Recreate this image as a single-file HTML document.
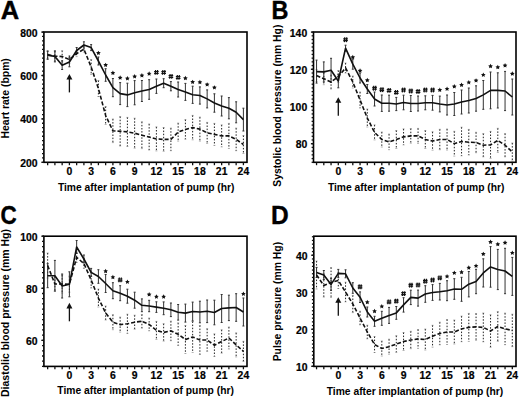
<!DOCTYPE html>
<html><head><meta charset="utf-8"><style>
html,body{margin:0;padding:0;background:#fff;}
#wrap{width:520px;height:398px;}
body{width:520px;height:398px;overflow:hidden;}
svg{display:block;font-family:"Liberation Sans",sans-serif;font-weight:bold;}
.fr{fill:none;stroke:#000;stroke-width:1.6;}
.tk{stroke:#111;stroke-width:1.3;}
.sl{fill:none;stroke:#111;stroke-width:1.6;stroke-linejoin:round;}
.dl{fill:none;stroke:#111;stroke-width:1.6;stroke-dasharray:4 2;}
.sb{stroke:#333;stroke-width:1;}
.scap{stroke:#333;stroke-width:1;}
.db{stroke:#222;stroke-width:1;stroke-dasharray:1.5 1.6;}
.cap{stroke:#666;stroke-width:0.5;}
.arr{stroke:#111;stroke-width:1.3;}
.tl{font-size:10.4px;fill:#000;stroke:#000;stroke-width:0.2;}
.at{font-size:10.3px;fill:#000;}
.pl{font-size:25.5px;fill:#000;stroke:#000;stroke-width:0.4;}
.hs{fill:none;stroke:#111;stroke-width:1.2;}
polygon{fill:#111;}
</style></head><body>
<div id="wrap"><svg width="520" height="398" viewBox="0 0 520 398">
<g><line class="db" x1="47.65" y1="50.6" x2="47.65" y2="58.6"/><line class="cap" x1="46.65" y1="50.6" x2="48.65" y2="50.6"/><line class="cap" x1="46.65" y1="58.6" x2="48.65" y2="58.6"/><line class="db" x1="54.9" y1="51.1" x2="54.9" y2="61.1"/><line class="cap" x1="53.9" y1="51.1" x2="55.9" y2="51.1"/><line class="cap" x1="53.9" y1="61.1" x2="55.9" y2="61.1"/><line class="db" x1="62.15" y1="50.7" x2="62.15" y2="62.3"/><line class="cap" x1="61.15" y1="50.7" x2="63.15" y2="50.7"/><line class="cap" x1="61.15" y1="62.3" x2="63.15" y2="62.3"/><line class="db" x1="69.4" y1="55.6" x2="69.4" y2="63.6"/><line class="cap" x1="68.4" y1="55.6" x2="70.4" y2="55.6"/><line class="cap" x1="68.4" y1="63.6" x2="70.4" y2="63.6"/><line class="db" x1="76.65" y1="50.6" x2="76.65" y2="56.6"/><line class="cap" x1="75.65" y1="50.6" x2="77.65" y2="50.6"/><line class="cap" x1="75.65" y1="56.6" x2="77.65" y2="56.6"/><line class="db" x1="83.9" y1="46.1" x2="83.9" y2="52.1"/><line class="cap" x1="82.9" y1="46.1" x2="84.9" y2="46.1"/><line class="cap" x1="82.9" y1="52.1" x2="84.9" y2="52.1"/><line class="db" x1="91.15" y1="59.5" x2="91.15" y2="74.5"/><line class="cap" x1="90.15" y1="59.5" x2="92.15" y2="59.5"/><line class="cap" x1="90.15" y1="74.5" x2="92.15" y2="74.5"/><line class="db" x1="98.4" y1="80.5" x2="98.4" y2="96.5"/><line class="cap" x1="97.4" y1="80.5" x2="99.4" y2="80.5"/><line class="cap" x1="97.4" y1="96.5" x2="99.4" y2="96.5"/><line class="db" x1="105.65" y1="106.5" x2="105.65" y2="124.5"/><line class="cap" x1="104.65" y1="106.5" x2="106.65" y2="106.5"/><line class="cap" x1="104.65" y1="124.5" x2="106.65" y2="124.5"/><line class="db" x1="112.9" y1="119" x2="112.9" y2="142.6"/><line class="cap" x1="111.9" y1="119" x2="113.9" y2="119"/><line class="cap" x1="111.9" y1="142.6" x2="113.9" y2="142.6"/><line class="db" x1="120.15" y1="116.6" x2="120.15" y2="146"/><line class="cap" x1="119.15" y1="116.6" x2="121.15" y2="116.6"/><line class="cap" x1="119.15" y1="146" x2="121.15" y2="146"/><line class="db" x1="127.4" y1="117.4" x2="127.4" y2="146.4"/><line class="cap" x1="126.4" y1="117.4" x2="128.4" y2="117.4"/><line class="cap" x1="126.4" y1="146.4" x2="128.4" y2="146.4"/><line class="db" x1="134.65" y1="118.2" x2="134.65" y2="148.2"/><line class="cap" x1="133.65" y1="118.2" x2="135.65" y2="118.2"/><line class="cap" x1="133.65" y1="148.2" x2="135.65" y2="148.2"/><line class="db" x1="141.9" y1="121.8" x2="141.9" y2="148.6"/><line class="cap" x1="140.9" y1="121.8" x2="142.9" y2="121.8"/><line class="cap" x1="140.9" y1="148.6" x2="142.9" y2="148.6"/><line class="db" x1="149.15" y1="124" x2="149.15" y2="150"/><line class="cap" x1="148.15" y1="124" x2="150.15" y2="124"/><line class="cap" x1="148.15" y1="150" x2="150.15" y2="150"/><line class="db" x1="156.4" y1="126.9" x2="156.4" y2="150.9"/><line class="cap" x1="155.4" y1="126.9" x2="157.4" y2="126.9"/><line class="cap" x1="155.4" y1="150.9" x2="157.4" y2="150.9"/><line class="db" x1="163.65" y1="127.5" x2="163.65" y2="151.3"/><line class="cap" x1="162.65" y1="127.5" x2="164.65" y2="127.5"/><line class="cap" x1="162.65" y1="151.3" x2="164.65" y2="151.3"/><line class="db" x1="170.9" y1="128.1" x2="170.9" y2="150.7"/><line class="cap" x1="169.9" y1="128.1" x2="171.9" y2="128.1"/><line class="cap" x1="169.9" y1="150.7" x2="171.9" y2="150.7"/><line class="db" x1="178.15" y1="123.1" x2="178.15" y2="141.1"/><line class="cap" x1="177.15" y1="123.1" x2="179.15" y2="123.1"/><line class="cap" x1="177.15" y1="141.1" x2="179.15" y2="141.1"/><line class="db" x1="185.4" y1="119.6" x2="185.4" y2="139.2"/><line class="cap" x1="184.4" y1="119.6" x2="186.4" y2="119.6"/><line class="cap" x1="184.4" y1="139.2" x2="186.4" y2="139.2"/><line class="db" x1="192.65" y1="115.4" x2="192.65" y2="139.8"/><line class="cap" x1="191.65" y1="115.4" x2="193.65" y2="115.4"/><line class="cap" x1="191.65" y1="139.8" x2="193.65" y2="139.8"/><line class="db" x1="199.9" y1="117.1" x2="199.9" y2="141.1"/><line class="cap" x1="198.9" y1="117.1" x2="200.9" y2="117.1"/><line class="cap" x1="198.9" y1="141.1" x2="200.9" y2="141.1"/><line class="db" x1="207.15" y1="122.4" x2="207.15" y2="143.4"/><line class="cap" x1="206.15" y1="122.4" x2="208.15" y2="122.4"/><line class="cap" x1="206.15" y1="143.4" x2="208.15" y2="143.4"/><line class="db" x1="214.4" y1="123.4" x2="214.4" y2="145.4"/><line class="cap" x1="213.4" y1="123.4" x2="215.4" y2="123.4"/><line class="cap" x1="213.4" y1="145.4" x2="215.4" y2="145.4"/><line class="db" x1="221.65" y1="124.9" x2="221.65" y2="146.9"/><line class="cap" x1="220.65" y1="124.9" x2="222.65" y2="124.9"/><line class="cap" x1="220.65" y1="146.9" x2="222.65" y2="146.9"/><line class="db" x1="228.9" y1="123.4" x2="228.9" y2="148.4"/><line class="cap" x1="227.9" y1="123.4" x2="229.9" y2="123.4"/><line class="cap" x1="227.9" y1="148.4" x2="229.9" y2="148.4"/><line class="db" x1="236.15" y1="128.1" x2="236.15" y2="150.7"/><line class="cap" x1="235.15" y1="128.1" x2="237.15" y2="128.1"/><line class="cap" x1="235.15" y1="150.7" x2="237.15" y2="150.7"/><line class="db" x1="243.4" y1="135.5" x2="243.4" y2="153.5"/><line class="cap" x1="242.4" y1="135.5" x2="244.4" y2="135.5"/><line class="cap" x1="242.4" y1="153.5" x2="244.4" y2="153.5"/><line class="sb" x1="47.65" y1="51.3" x2="47.65" y2="59.3"/><line class="scap" x1="46.65" y1="51.3" x2="48.65" y2="51.3"/><line class="scap" x1="46.65" y1="59.3" x2="48.65" y2="59.3"/><line class="sb" x1="54.9" y1="50.9" x2="54.9" y2="61.9"/><line class="scap" x1="53.9" y1="50.9" x2="55.9" y2="50.9"/><line class="scap" x1="53.9" y1="61.9" x2="55.9" y2="61.9"/><line class="sb" x1="62.15" y1="60.9" x2="62.15" y2="69.5"/><line class="scap" x1="61.15" y1="60.9" x2="63.15" y2="60.9"/><line class="scap" x1="61.15" y1="69.5" x2="63.15" y2="69.5"/><line class="sb" x1="69.4" y1="57.2" x2="69.4" y2="66.8"/><line class="scap" x1="68.4" y1="57.2" x2="70.4" y2="57.2"/><line class="scap" x1="68.4" y1="66.8" x2="70.4" y2="66.8"/><line class="sb" x1="76.65" y1="47.5" x2="76.65" y2="53.5"/><line class="scap" x1="75.65" y1="47.5" x2="77.65" y2="47.5"/><line class="scap" x1="75.65" y1="53.5" x2="77.65" y2="53.5"/><line class="sb" x1="83.9" y1="41.8" x2="83.9" y2="48.2"/><line class="scap" x1="82.9" y1="41.8" x2="84.9" y2="41.8"/><line class="scap" x1="82.9" y1="48.2" x2="84.9" y2="48.2"/><line class="sb" x1="91.15" y1="44.6" x2="91.15" y2="50.6"/><line class="scap" x1="90.15" y1="44.6" x2="92.15" y2="44.6"/><line class="scap" x1="90.15" y1="50.6" x2="92.15" y2="50.6"/><line class="sb" x1="98.4" y1="57" x2="98.4" y2="65"/><line class="scap" x1="97.4" y1="57" x2="99.4" y2="57"/><line class="scap" x1="97.4" y1="65" x2="99.4" y2="65"/><line class="sb" x1="105.65" y1="68.7" x2="105.65" y2="81.3"/><line class="scap" x1="104.65" y1="68.7" x2="106.65" y2="68.7"/><line class="scap" x1="104.65" y1="81.3" x2="106.65" y2="81.3"/><line class="sb" x1="112.9" y1="78.5" x2="112.9" y2="96.7"/><line class="scap" x1="111.9" y1="78.5" x2="113.9" y2="78.5"/><line class="scap" x1="111.9" y1="96.7" x2="113.9" y2="96.7"/><line class="sb" x1="120.15" y1="82.6" x2="120.15" y2="104.6"/><line class="scap" x1="119.15" y1="82.6" x2="121.15" y2="82.6"/><line class="scap" x1="119.15" y1="104.6" x2="121.15" y2="104.6"/><line class="sb" x1="127.4" y1="83.2" x2="127.4" y2="106.6"/><line class="scap" x1="126.4" y1="83.2" x2="128.4" y2="83.2"/><line class="scap" x1="126.4" y1="106.6" x2="128.4" y2="106.6"/><line class="sb" x1="134.65" y1="80.6" x2="134.65" y2="104.8"/><line class="scap" x1="133.65" y1="80.6" x2="135.65" y2="80.6"/><line class="scap" x1="133.65" y1="104.8" x2="135.65" y2="104.8"/><line class="sb" x1="141.9" y1="80.5" x2="141.9" y2="101.5"/><line class="scap" x1="140.9" y1="80.5" x2="142.9" y2="80.5"/><line class="scap" x1="140.9" y1="101.5" x2="142.9" y2="101.5"/><line class="sb" x1="149.15" y1="79.7" x2="149.15" y2="99.3"/><line class="scap" x1="148.15" y1="79.7" x2="150.15" y2="79.7"/><line class="scap" x1="148.15" y1="99.3" x2="150.15" y2="99.3"/><line class="sb" x1="156.4" y1="79" x2="156.4" y2="93.4"/><line class="scap" x1="155.4" y1="79" x2="157.4" y2="79"/><line class="scap" x1="155.4" y1="93.4" x2="157.4" y2="93.4"/><line class="sb" x1="163.65" y1="78.7" x2="163.65" y2="87.7"/><line class="scap" x1="162.65" y1="78.7" x2="164.65" y2="78.7"/><line class="scap" x1="162.65" y1="87.7" x2="164.65" y2="87.7"/><line class="sb" x1="170.9" y1="81.6" x2="170.9" y2="90.8"/><line class="scap" x1="169.9" y1="81.6" x2="171.9" y2="81.6"/><line class="scap" x1="169.9" y1="90.8" x2="171.9" y2="90.8"/><line class="sb" x1="178.15" y1="82" x2="178.15" y2="97"/><line class="scap" x1="177.15" y1="82" x2="179.15" y2="82"/><line class="scap" x1="177.15" y1="97" x2="179.15" y2="97"/><line class="sb" x1="185.4" y1="83.4" x2="185.4" y2="100.4"/><line class="scap" x1="184.4" y1="83.4" x2="186.4" y2="83.4"/><line class="scap" x1="184.4" y1="100.4" x2="186.4" y2="100.4"/><line class="sb" x1="192.65" y1="86.2" x2="192.65" y2="103.4"/><line class="scap" x1="191.65" y1="86.2" x2="193.65" y2="86.2"/><line class="scap" x1="191.65" y1="103.4" x2="193.65" y2="103.4"/><line class="sb" x1="199.9" y1="86.9" x2="199.9" y2="104.1"/><line class="scap" x1="198.9" y1="86.9" x2="200.9" y2="86.9"/><line class="scap" x1="198.9" y1="104.1" x2="200.9" y2="104.1"/><line class="sb" x1="207.15" y1="89.9" x2="207.15" y2="107.9"/><line class="scap" x1="206.15" y1="89.9" x2="208.15" y2="89.9"/><line class="scap" x1="206.15" y1="107.9" x2="208.15" y2="107.9"/><line class="sb" x1="214.4" y1="93.8" x2="214.4" y2="112.2"/><line class="scap" x1="213.4" y1="93.8" x2="215.4" y2="93.8"/><line class="scap" x1="213.4" y1="112.2" x2="215.4" y2="112.2"/><line class="sb" x1="221.65" y1="96" x2="221.65" y2="116"/><line class="scap" x1="220.65" y1="96" x2="222.65" y2="96"/><line class="scap" x1="220.65" y1="116" x2="222.65" y2="116"/><line class="sb" x1="228.9" y1="97.6" x2="228.9" y2="118.8"/><line class="scap" x1="227.9" y1="97.6" x2="229.9" y2="97.6"/><line class="scap" x1="227.9" y1="118.8" x2="229.9" y2="118.8"/><line class="sb" x1="236.15" y1="101.8" x2="236.15" y2="122.8"/><line class="scap" x1="235.15" y1="101.8" x2="237.15" y2="101.8"/><line class="scap" x1="235.15" y1="122.8" x2="237.15" y2="122.8"/><line class="sb" x1="243.4" y1="108.2" x2="243.4" y2="131"/><line class="scap" x1="242.4" y1="108.2" x2="244.4" y2="108.2"/><line class="scap" x1="242.4" y1="131" x2="244.4" y2="131"/><polyline class="dl" points="47.65,54.6 54.9,56.1 62.15,56.5 69.4,59.6 76.65,53.6 83.9,49.1 91.15,67 98.4,88.5 105.65,115.5 112.9,130.8 120.15,131.3 127.4,131.9 134.65,133.2 141.9,135.2 149.15,137 156.4,138.9 163.65,139.4 170.9,139.4 178.15,132.1 185.4,129.4 192.65,127.6 199.9,129.1 207.15,132.9 214.4,134.4 221.65,135.9 228.9,135.9 236.15,139.4 243.4,144.5"/><polyline class="sl" points="47.65,55.3 54.9,56.4 62.15,65.2 69.4,62 76.65,50.5 83.9,45 91.15,47.6 98.4,61 105.65,75 112.9,87.6 120.15,93.6 127.4,94.9 134.65,92.7 141.9,91 149.15,89.5 156.4,86.2 163.65,83.2 170.9,86.2 178.15,89.5 185.4,91.9 192.65,94.8 199.9,95.5 207.15,98.9 214.4,103 221.65,106 228.9,108.2 236.15,112.3 243.4,119.6"/><polygon points="98.4,50.65 99.12,52.11 100.73,52.34 99.57,53.48 99.84,55.08 98.4,54.33 96.96,55.08 97.23,53.48 96.07,52.34 97.68,52.11"/><polygon points="105.65,62.65 106.37,64.11 107.98,64.34 106.82,65.48 107.09,67.08 105.65,66.32 104.21,67.08 104.48,65.48 103.32,64.34 104.93,64.11"/><polygon points="112.9,70.55 113.62,72.01 115.23,72.24 114.07,73.38 114.34,74.98 112.9,74.22 111.46,74.98 111.73,73.38 110.57,72.24 112.18,72.01"/><polygon points="120.15,75.35 120.87,76.81 122.48,77.04 121.32,78.18 121.59,79.78 120.15,79.02 118.71,79.78 118.98,78.18 117.82,77.04 119.43,76.81"/><polygon points="127.4,76.05 128.12,77.51 129.73,77.74 128.57,78.88 128.84,80.48 127.4,79.72 125.96,80.48 126.23,78.88 125.07,77.74 126.68,77.51"/><polygon points="134.65,74.05 135.37,75.51 136.98,75.74 135.82,76.88 136.09,78.48 134.65,77.72 133.21,78.48 133.48,76.88 132.32,75.74 133.93,75.51"/><polygon points="141.9,73.05 142.62,74.51 144.23,74.74 143.07,75.88 143.34,77.48 141.9,76.72 140.46,77.48 140.73,75.88 139.57,74.74 141.18,74.51"/><polygon points="149.15,71.25 149.87,72.71 151.48,72.94 150.32,74.08 150.59,75.68 149.15,74.92 147.71,75.68 147.98,74.08 146.82,72.94 148.43,72.71"/><path class="hs" d="M155.6 70L155.2 74.8M157.6 70L157.2 74.8M154.1 71.5H158.7M154.1 73.4H158.7"/><path class="hs" d="M162.85 70L162.45 74.8M164.85 70L164.45 74.8M161.35 71.5H165.95M161.35 73.4H165.95"/><path class="hs" d="M170.1 74L169.7 78.8M172.1 74L171.7 78.8M168.6 75.5H173.2M168.6 77.4H173.2"/><path class="hs" d="M177.35 75L176.95 79.8M179.35 75L178.95 79.8M175.85 76.5H180.45M175.85 78.4H180.45"/><polygon points="185.4,75.85 186.12,77.31 187.73,77.54 186.57,78.68 186.84,80.28 185.4,79.52 183.96,80.28 184.23,78.68 183.07,77.54 184.68,77.31"/><polygon points="192.65,79.65 193.37,81.11 194.98,81.34 193.82,82.48 194.09,84.08 192.65,83.32 191.21,84.08 191.48,82.48 190.32,81.34 191.93,81.11"/><polygon points="199.9,79.85 200.62,81.31 202.23,81.54 201.07,82.68 201.34,84.28 199.9,83.52 198.46,84.28 198.73,82.68 197.57,81.54 199.18,81.31"/><polygon points="207.15,82.15 207.87,83.61 209.48,83.84 208.32,84.98 208.59,86.58 207.15,85.82 205.71,86.58 205.98,84.98 204.82,83.84 206.43,83.61"/><polygon points="214.4,85.15 215.12,86.61 216.73,86.84 215.57,87.98 215.84,89.58 214.4,88.82 212.96,89.58 213.23,87.98 212.07,86.84 213.68,86.61"/><rect class="fr" x="43.9" y="32" width="203.1" height="130.3"/><line class="tk" x1="47.65" y1="162.3" x2="47.65" y2="165.2"/><line class="tk" x1="54.9" y1="162.3" x2="54.9" y2="165.2"/><line class="tk" x1="62.15" y1="162.3" x2="62.15" y2="165.2"/><line class="tk" x1="69.4" y1="162.3" x2="69.4" y2="165.2"/><line class="tk" x1="76.65" y1="162.3" x2="76.65" y2="165.2"/><line class="tk" x1="83.9" y1="162.3" x2="83.9" y2="165.2"/><line class="tk" x1="91.15" y1="162.3" x2="91.15" y2="165.2"/><line class="tk" x1="98.4" y1="162.3" x2="98.4" y2="165.2"/><line class="tk" x1="105.65" y1="162.3" x2="105.65" y2="165.2"/><line class="tk" x1="112.9" y1="162.3" x2="112.9" y2="165.2"/><line class="tk" x1="120.15" y1="162.3" x2="120.15" y2="165.2"/><line class="tk" x1="127.4" y1="162.3" x2="127.4" y2="165.2"/><line class="tk" x1="134.65" y1="162.3" x2="134.65" y2="165.2"/><line class="tk" x1="141.9" y1="162.3" x2="141.9" y2="165.2"/><line class="tk" x1="149.15" y1="162.3" x2="149.15" y2="165.2"/><line class="tk" x1="156.4" y1="162.3" x2="156.4" y2="165.2"/><line class="tk" x1="163.65" y1="162.3" x2="163.65" y2="165.2"/><line class="tk" x1="170.9" y1="162.3" x2="170.9" y2="165.2"/><line class="tk" x1="178.15" y1="162.3" x2="178.15" y2="165.2"/><line class="tk" x1="185.4" y1="162.3" x2="185.4" y2="165.2"/><line class="tk" x1="192.65" y1="162.3" x2="192.65" y2="165.2"/><line class="tk" x1="199.9" y1="162.3" x2="199.9" y2="165.2"/><line class="tk" x1="207.15" y1="162.3" x2="207.15" y2="165.2"/><line class="tk" x1="214.4" y1="162.3" x2="214.4" y2="165.2"/><line class="tk" x1="221.65" y1="162.3" x2="221.65" y2="165.2"/><line class="tk" x1="228.9" y1="162.3" x2="228.9" y2="165.2"/><line class="tk" x1="236.15" y1="162.3" x2="236.15" y2="165.2"/><line class="tk" x1="243.4" y1="162.3" x2="243.4" y2="165.2"/><text class="tl" x="69.4" y="175.1" text-anchor="middle">0</text><text class="tl" x="91.15" y="175.1" text-anchor="middle">3</text><text class="tl" x="112.9" y="175.1" text-anchor="middle">6</text><text class="tl" x="134.65" y="175.1" text-anchor="middle">9</text><text class="tl" x="156.4" y="175.1" text-anchor="middle">12</text><text class="tl" x="178.15" y="175.1" text-anchor="middle">15</text><text class="tl" x="199.9" y="175.1" text-anchor="middle">18</text><text class="tl" x="221.65" y="175.1" text-anchor="middle">21</text><text class="tl" x="243.4" y="175.1" text-anchor="middle">24</text><line class="tk" x1="42" y1="162.3" x2="43.9" y2="162.3"/><line class="tk" x1="42" y1="157.96" x2="43.9" y2="157.96"/><line class="tk" x1="42" y1="153.62" x2="43.9" y2="153.62"/><line class="tk" x1="42" y1="149.28" x2="43.9" y2="149.28"/><line class="tk" x1="42" y1="144.94" x2="43.9" y2="144.94"/><line class="tk" x1="42" y1="140.6" x2="43.9" y2="140.6"/><line class="tk" x1="42" y1="136.26" x2="43.9" y2="136.26"/><line class="tk" x1="42" y1="131.92" x2="43.9" y2="131.92"/><line class="tk" x1="42" y1="127.58" x2="43.9" y2="127.58"/><line class="tk" x1="42" y1="123.24" x2="43.9" y2="123.24"/><line class="tk" x1="42" y1="118.9" x2="43.9" y2="118.9"/><line class="tk" x1="42" y1="114.56" x2="43.9" y2="114.56"/><line class="tk" x1="42" y1="110.22" x2="43.9" y2="110.22"/><line class="tk" x1="42" y1="105.88" x2="43.9" y2="105.88"/><line class="tk" x1="42" y1="101.54" x2="43.9" y2="101.54"/><line class="tk" x1="42" y1="97.2" x2="43.9" y2="97.2"/><line class="tk" x1="42" y1="92.86" x2="43.9" y2="92.86"/><line class="tk" x1="42" y1="88.52" x2="43.9" y2="88.52"/><line class="tk" x1="42" y1="84.18" x2="43.9" y2="84.18"/><line class="tk" x1="42" y1="79.84" x2="43.9" y2="79.84"/><line class="tk" x1="42" y1="75.5" x2="43.9" y2="75.5"/><line class="tk" x1="42" y1="71.16" x2="43.9" y2="71.16"/><line class="tk" x1="42" y1="66.82" x2="43.9" y2="66.82"/><line class="tk" x1="42" y1="62.48" x2="43.9" y2="62.48"/><line class="tk" x1="42" y1="58.14" x2="43.9" y2="58.14"/><line class="tk" x1="42" y1="53.8" x2="43.9" y2="53.8"/><line class="tk" x1="42" y1="49.46" x2="43.9" y2="49.46"/><line class="tk" x1="42" y1="45.12" x2="43.9" y2="45.12"/><line class="tk" x1="42" y1="40.78" x2="43.9" y2="40.78"/><line class="tk" x1="42" y1="36.44" x2="43.9" y2="36.44"/><line class="tk" x1="42" y1="32.1" x2="43.9" y2="32.1"/><line class="tk" x1="41.3" y1="162.3" x2="43.9" y2="162.3"/><text class="tl" x="37.6" y="166.7" text-anchor="end">200</text><line class="tk" x1="41.3" y1="118.9" x2="43.9" y2="118.9"/><text class="tl" x="37.6" y="123.3" text-anchor="end">400</text><line class="tk" x1="41.3" y1="75.5" x2="43.9" y2="75.5"/><text class="tl" x="37.6" y="79.9" text-anchor="end">600</text><line class="tk" x1="41.3" y1="32.1" x2="43.9" y2="32.1"/><text class="tl" x="37.6" y="36.5" text-anchor="end">800</text><line class="arr" x1="69.4" y1="77.9" x2="69.4" y2="92.4"/><polygon points="69.4,73.9 66.4,79.5 72.4,79.5"/><text class="at" x="146.2" y="191.1" text-anchor="middle">Time after implantation of pump (hr)</text><text class="at" style="font-size:10.4px" transform="translate(9.3,98.3) rotate(-90)" text-anchor="middle">Heart rate (bpm)</text><text class="pl" transform="translate(0.8,18.6) scale(1,1)">A</text></g><g><line class="db" x1="316.55" y1="69.6" x2="316.55" y2="81.6"/><line class="cap" x1="315.55" y1="69.6" x2="317.55" y2="69.6"/><line class="cap" x1="315.55" y1="81.6" x2="317.55" y2="81.6"/><line class="db" x1="323.8" y1="72.7" x2="323.8" y2="84.7"/><line class="cap" x1="322.8" y1="72.7" x2="324.8" y2="72.7"/><line class="cap" x1="322.8" y1="84.7" x2="324.8" y2="84.7"/><line class="db" x1="331.05" y1="75" x2="331.05" y2="89"/><line class="cap" x1="330.05" y1="75" x2="332.05" y2="75"/><line class="cap" x1="330.05" y1="89" x2="332.05" y2="89"/><line class="db" x1="338.3" y1="70.5" x2="338.3" y2="82.5"/><line class="cap" x1="337.3" y1="70.5" x2="339.3" y2="70.5"/><line class="cap" x1="337.3" y1="82.5" x2="339.3" y2="82.5"/><line class="db" x1="345.55" y1="63" x2="345.55" y2="73"/><line class="cap" x1="344.55" y1="63" x2="346.55" y2="63"/><line class="cap" x1="344.55" y1="73" x2="346.55" y2="73"/><line class="db" x1="352.8" y1="76" x2="352.8" y2="88"/><line class="cap" x1="351.8" y1="76" x2="353.8" y2="76"/><line class="cap" x1="351.8" y1="88" x2="353.8" y2="88"/><line class="db" x1="360.05" y1="92" x2="360.05" y2="108"/><line class="cap" x1="359.05" y1="92" x2="361.05" y2="92"/><line class="cap" x1="359.05" y1="108" x2="361.05" y2="108"/><line class="db" x1="367.3" y1="109" x2="367.3" y2="127"/><line class="cap" x1="366.3" y1="109" x2="368.3" y2="109"/><line class="cap" x1="366.3" y1="127" x2="368.3" y2="127"/><line class="db" x1="374.55" y1="124.9" x2="374.55" y2="139.9"/><line class="cap" x1="373.55" y1="124.9" x2="375.55" y2="124.9"/><line class="cap" x1="373.55" y1="139.9" x2="375.55" y2="139.9"/><line class="db" x1="381.8" y1="132" x2="381.8" y2="147"/><line class="cap" x1="380.8" y1="132" x2="382.8" y2="132"/><line class="cap" x1="380.8" y1="147" x2="382.8" y2="147"/><line class="db" x1="389.05" y1="134.1" x2="389.05" y2="149.7"/><line class="cap" x1="388.05" y1="134.1" x2="390.05" y2="134.1"/><line class="cap" x1="388.05" y1="149.7" x2="390.05" y2="149.7"/><line class="db" x1="396.3" y1="130.5" x2="396.3" y2="148.5"/><line class="cap" x1="395.3" y1="130.5" x2="397.3" y2="130.5"/><line class="cap" x1="395.3" y1="148.5" x2="397.3" y2="148.5"/><line class="db" x1="403.55" y1="128.9" x2="403.55" y2="144.9"/><line class="cap" x1="402.55" y1="128.9" x2="404.55" y2="128.9"/><line class="cap" x1="402.55" y1="144.9" x2="404.55" y2="144.9"/><line class="db" x1="410.8" y1="128.6" x2="410.8" y2="143.2"/><line class="cap" x1="409.8" y1="128.6" x2="411.8" y2="128.6"/><line class="cap" x1="409.8" y1="143.2" x2="411.8" y2="143.2"/><line class="db" x1="418.05" y1="128.4" x2="418.05" y2="143.4"/><line class="cap" x1="417.05" y1="128.4" x2="419.05" y2="128.4"/><line class="cap" x1="417.05" y1="143.4" x2="419.05" y2="143.4"/><line class="db" x1="425.3" y1="130.5" x2="425.3" y2="148.5"/><line class="cap" x1="424.3" y1="130.5" x2="426.3" y2="130.5"/><line class="cap" x1="424.3" y1="148.5" x2="426.3" y2="148.5"/><line class="db" x1="432.55" y1="131.8" x2="432.55" y2="150.2"/><line class="cap" x1="431.55" y1="131.8" x2="433.55" y2="131.8"/><line class="cap" x1="431.55" y1="150.2" x2="433.55" y2="150.2"/><line class="db" x1="439.8" y1="129.3" x2="439.8" y2="149.7"/><line class="cap" x1="438.8" y1="129.3" x2="440.8" y2="129.3"/><line class="cap" x1="438.8" y1="149.7" x2="440.8" y2="149.7"/><line class="db" x1="447.05" y1="129" x2="447.05" y2="150"/><line class="cap" x1="446.05" y1="129" x2="448.05" y2="129"/><line class="cap" x1="446.05" y1="150" x2="448.05" y2="150"/><line class="db" x1="454.3" y1="131.3" x2="454.3" y2="156.1"/><line class="cap" x1="453.3" y1="131.3" x2="455.3" y2="131.3"/><line class="cap" x1="453.3" y1="156.1" x2="455.3" y2="156.1"/><line class="db" x1="461.55" y1="127.2" x2="461.55" y2="155.8"/><line class="cap" x1="460.55" y1="127.2" x2="462.55" y2="127.2"/><line class="cap" x1="460.55" y1="155.8" x2="462.55" y2="155.8"/><line class="db" x1="468.8" y1="129.4" x2="468.8" y2="155"/><line class="cap" x1="467.8" y1="129.4" x2="469.8" y2="129.4"/><line class="cap" x1="467.8" y1="155" x2="469.8" y2="155"/><line class="db" x1="476.05" y1="132.3" x2="476.05" y2="152.7"/><line class="cap" x1="475.05" y1="132.3" x2="477.05" y2="132.3"/><line class="cap" x1="475.05" y1="152.7" x2="477.05" y2="152.7"/><line class="db" x1="483.3" y1="133.6" x2="483.3" y2="156.8"/><line class="cap" x1="482.3" y1="133.6" x2="484.3" y2="133.6"/><line class="cap" x1="482.3" y1="156.8" x2="484.3" y2="156.8"/><line class="db" x1="490.55" y1="131.4" x2="490.55" y2="158.4"/><line class="cap" x1="489.55" y1="131.4" x2="491.55" y2="131.4"/><line class="cap" x1="489.55" y1="158.4" x2="491.55" y2="158.4"/><line class="db" x1="497.8" y1="128.3" x2="497.8" y2="152.5"/><line class="cap" x1="496.8" y1="128.3" x2="498.8" y2="128.3"/><line class="cap" x1="496.8" y1="152.5" x2="498.8" y2="152.5"/><line class="db" x1="505.05" y1="133.6" x2="505.05" y2="156.8"/><line class="cap" x1="504.05" y1="133.6" x2="506.05" y2="133.6"/><line class="cap" x1="504.05" y1="156.8" x2="506.05" y2="156.8"/><line class="db" x1="512.3" y1="143" x2="512.3" y2="161"/><line class="cap" x1="511.3" y1="143" x2="513.3" y2="143"/><line class="cap" x1="511.3" y1="161" x2="513.3" y2="161"/><line class="sb" x1="316.55" y1="60.1" x2="316.55" y2="83.1"/><line class="scap" x1="315.55" y1="60.1" x2="317.55" y2="60.1"/><line class="scap" x1="315.55" y1="83.1" x2="317.55" y2="83.1"/><line class="sb" x1="323.8" y1="61.9" x2="323.8" y2="81.9"/><line class="scap" x1="322.8" y1="61.9" x2="324.8" y2="61.9"/><line class="scap" x1="322.8" y1="81.9" x2="324.8" y2="81.9"/><line class="sb" x1="331.05" y1="58.3" x2="331.05" y2="82.3"/><line class="scap" x1="330.05" y1="58.3" x2="332.05" y2="58.3"/><line class="scap" x1="330.05" y1="82.3" x2="332.05" y2="82.3"/><line class="sb" x1="338.3" y1="74.2" x2="338.3" y2="87.8"/><line class="scap" x1="337.3" y1="74.2" x2="339.3" y2="74.2"/><line class="scap" x1="337.3" y1="87.8" x2="339.3" y2="87.8"/><line class="sb" x1="345.55" y1="45.2" x2="345.55" y2="51.2"/><line class="scap" x1="344.55" y1="45.2" x2="346.55" y2="45.2"/><line class="scap" x1="344.55" y1="51.2" x2="346.55" y2="51.2"/><line class="sb" x1="352.8" y1="59.2" x2="352.8" y2="69.2"/><line class="scap" x1="351.8" y1="59.2" x2="353.8" y2="59.2"/><line class="scap" x1="351.8" y1="69.2" x2="353.8" y2="69.2"/><line class="sb" x1="360.05" y1="73" x2="360.05" y2="83"/><line class="scap" x1="359.05" y1="73" x2="361.05" y2="73"/><line class="scap" x1="359.05" y1="83" x2="361.05" y2="83"/><line class="sb" x1="367.3" y1="84.5" x2="367.3" y2="93.5"/><line class="scap" x1="366.3" y1="84.5" x2="368.3" y2="84.5"/><line class="scap" x1="366.3" y1="93.5" x2="368.3" y2="93.5"/><line class="sb" x1="374.55" y1="92" x2="374.55" y2="106"/><line class="scap" x1="373.55" y1="92" x2="375.55" y2="92"/><line class="scap" x1="373.55" y1="106" x2="375.55" y2="106"/><line class="sb" x1="381.8" y1="95" x2="381.8" y2="111.4"/><line class="scap" x1="380.8" y1="95" x2="382.8" y2="95"/><line class="scap" x1="380.8" y1="111.4" x2="382.8" y2="111.4"/><line class="sb" x1="389.05" y1="95.2" x2="389.05" y2="111.2"/><line class="scap" x1="388.05" y1="95.2" x2="390.05" y2="95.2"/><line class="scap" x1="388.05" y1="111.2" x2="390.05" y2="111.2"/><line class="sb" x1="396.3" y1="97.4" x2="396.3" y2="110.6"/><line class="scap" x1="395.3" y1="97.4" x2="397.3" y2="97.4"/><line class="scap" x1="395.3" y1="110.6" x2="397.3" y2="110.6"/><line class="sb" x1="403.55" y1="95.2" x2="403.55" y2="109.8"/><line class="scap" x1="402.55" y1="95.2" x2="404.55" y2="95.2"/><line class="scap" x1="402.55" y1="109.8" x2="404.55" y2="109.8"/><line class="sb" x1="410.8" y1="95.5" x2="410.8" y2="111.5"/><line class="scap" x1="409.8" y1="95.5" x2="411.8" y2="95.5"/><line class="scap" x1="409.8" y1="111.5" x2="411.8" y2="111.5"/><line class="sb" x1="418.05" y1="96" x2="418.05" y2="111"/><line class="scap" x1="417.05" y1="96" x2="419.05" y2="96"/><line class="scap" x1="417.05" y1="111" x2="419.05" y2="111"/><line class="sb" x1="425.3" y1="95.8" x2="425.3" y2="109.8"/><line class="scap" x1="424.3" y1="95.8" x2="426.3" y2="95.8"/><line class="scap" x1="424.3" y1="109.8" x2="426.3" y2="109.8"/><line class="sb" x1="432.55" y1="95.4" x2="432.55" y2="110.2"/><line class="scap" x1="431.55" y1="95.4" x2="433.55" y2="95.4"/><line class="scap" x1="431.55" y1="110.2" x2="433.55" y2="110.2"/><line class="sb" x1="439.8" y1="96.1" x2="439.8" y2="111.9"/><line class="scap" x1="438.8" y1="96.1" x2="440.8" y2="96.1"/><line class="scap" x1="438.8" y1="111.9" x2="440.8" y2="111.9"/><line class="sb" x1="447.05" y1="95" x2="447.05" y2="115"/><line class="scap" x1="446.05" y1="95" x2="448.05" y2="95"/><line class="scap" x1="446.05" y1="115" x2="448.05" y2="115"/><line class="sb" x1="454.3" y1="92.5" x2="454.3" y2="115.5"/><line class="scap" x1="453.3" y1="92.5" x2="455.3" y2="92.5"/><line class="scap" x1="453.3" y1="115.5" x2="455.3" y2="115.5"/><line class="sb" x1="461.55" y1="90" x2="461.55" y2="114"/><line class="scap" x1="460.55" y1="90" x2="462.55" y2="90"/><line class="scap" x1="460.55" y1="114" x2="462.55" y2="114"/><line class="sb" x1="468.8" y1="88" x2="468.8" y2="113"/><line class="scap" x1="467.8" y1="88" x2="469.8" y2="88"/><line class="scap" x1="467.8" y1="113" x2="469.8" y2="113"/><line class="sb" x1="476.05" y1="85.8" x2="476.05" y2="111.2"/><line class="scap" x1="475.05" y1="85.8" x2="477.05" y2="85.8"/><line class="scap" x1="475.05" y1="111.2" x2="477.05" y2="111.2"/><line class="sb" x1="483.3" y1="80.5" x2="483.3" y2="109.3"/><line class="scap" x1="482.3" y1="80.5" x2="484.3" y2="80.5"/><line class="scap" x1="482.3" y1="109.3" x2="484.3" y2="109.3"/><line class="sb" x1="490.55" y1="72" x2="490.55" y2="108.8"/><line class="scap" x1="489.55" y1="72" x2="491.55" y2="72"/><line class="scap" x1="489.55" y1="108.8" x2="491.55" y2="108.8"/><line class="sb" x1="497.8" y1="72.8" x2="497.8" y2="108"/><line class="scap" x1="496.8" y1="72.8" x2="498.8" y2="72.8"/><line class="scap" x1="496.8" y1="108" x2="498.8" y2="108"/><line class="sb" x1="505.05" y1="71.4" x2="505.05" y2="110.6"/><line class="scap" x1="504.05" y1="71.4" x2="506.05" y2="71.4"/><line class="scap" x1="504.05" y1="110.6" x2="506.05" y2="110.6"/><line class="sb" x1="512.3" y1="79" x2="512.3" y2="115"/><line class="scap" x1="511.3" y1="79" x2="513.3" y2="79"/><line class="scap" x1="511.3" y1="115" x2="513.3" y2="115"/><polyline class="dl" points="316.55,75.6 323.8,78.7 331.05,82 338.3,76.5 345.55,68 352.8,82 360.05,100 367.3,118 374.55,132.4 381.8,139.5 389.05,141.9 396.3,139.5 403.55,136.9 410.8,135.9 418.05,135.9 425.3,139.5 432.55,141 439.8,139.5 447.05,139.5 454.3,143.7 461.55,141.5 468.8,142.2 476.05,142.5 483.3,145.2 490.55,144.9 497.8,140.4 505.05,145.2 512.3,152"/><polyline class="sl" points="316.55,71.6 323.8,71.9 331.05,70.3 338.3,81 345.55,48.2 352.8,64.2 360.05,78 367.3,89 374.55,99 381.8,103.2 389.05,103.2 396.3,104 403.55,102.5 410.8,103.5 418.05,103.5 425.3,102.8 432.55,102.8 439.8,104 447.05,105 454.3,104 461.55,102 468.8,100.5 476.05,98.5 483.3,94.9 490.55,90.4 497.8,90.4 505.05,91 512.3,97"/><path class="hs" d="M344.75 37.3L344.35 42.1M346.75 37.3L346.35 42.1M343.25 38.8H347.85M343.25 40.7H347.85"/><polygon points="352.8,54.85 353.52,56.31 355.13,56.54 353.97,57.68 354.24,59.28 352.8,58.52 351.36,59.28 351.63,57.68 350.47,56.54 352.08,56.31"/><polygon points="360.05,68.35 360.77,69.81 362.38,70.04 361.22,71.18 361.49,72.78 360.05,72.02 358.61,72.78 358.88,71.18 357.72,70.04 359.33,69.81"/><polygon points="367.3,77.85 368.02,79.31 369.63,79.54 368.47,80.68 368.74,82.28 367.3,81.52 365.86,82.28 366.13,80.68 364.97,79.54 366.58,79.31"/><path class="hs" d="M373.75 85.8L373.35 90.6M375.75 85.8L375.35 90.6M372.25 87.3H376.85M372.25 89.2H376.85"/><path class="hs" d="M381 87.3L380.6 92.1M383 87.3L382.6 92.1M379.5 88.8H384.1M379.5 90.7H384.1"/><path class="hs" d="M388.25 88L387.85 92.8M390.25 88L389.85 92.8M386.75 89.5H391.35M386.75 91.4H391.35"/><path class="hs" d="M395.5 90L395.1 94.8M397.5 90L397.1 94.8M394 91.5H398.6M394 93.4H398.6"/><path class="hs" d="M402.75 87.6L402.35 92.4M404.75 87.6L404.35 92.4M401.25 89.1H405.85M401.25 91H405.85"/><path class="hs" d="M410 88.6L409.6 93.4M412 88.6L411.6 93.4M408.5 90.1H413.1M408.5 92H413.1"/><path class="hs" d="M417.25 89.1L416.85 93.9M419.25 89.1L418.85 93.9M415.75 90.6H420.35M415.75 92.5H420.35"/><path class="hs" d="M424.5 87.6L424.1 92.4M426.5 87.6L426.1 92.4M423 89.1H427.6M423 91H427.6"/><path class="hs" d="M431.75 87.6L431.35 92.4M433.75 87.6L433.35 92.4M430.25 89.1H434.85M430.25 91H434.85"/><polygon points="439.8,87.55 440.52,89.01 442.13,89.24 440.97,90.38 441.24,91.98 439.8,91.22 438.36,91.98 438.63,90.38 437.47,89.24 439.08,89.01"/><polygon points="447.05,86.45 447.77,87.91 449.38,88.14 448.22,89.28 448.49,90.88 447.05,90.12 445.61,90.88 445.88,89.28 444.72,88.14 446.33,87.91"/><polygon points="454.3,84.05 455.02,85.51 456.63,85.74 455.47,86.88 455.74,88.48 454.3,87.72 452.86,88.48 453.13,86.88 451.97,85.74 453.58,85.51"/><polygon points="461.55,82.55 462.27,84.01 463.88,84.24 462.72,85.38 462.99,86.98 461.55,86.22 460.11,86.98 460.38,85.38 459.22,84.24 460.83,84.01"/><polygon points="468.8,79.95 469.52,81.41 471.13,81.64 469.97,82.78 470.24,84.38 468.8,83.62 467.36,84.38 467.63,82.78 466.47,81.64 468.08,81.41"/><polygon points="476.05,78.15 476.77,79.61 478.38,79.84 477.22,80.98 477.49,82.58 476.05,81.82 474.61,82.58 474.88,80.98 473.72,79.84 475.33,79.61"/><polygon points="483.3,72.45 484.02,73.91 485.63,74.14 484.47,75.28 484.74,76.88 483.3,76.12 481.86,76.88 482.13,75.28 480.97,74.14 482.58,73.91"/><polygon points="490.55,63.85 491.27,65.31 492.88,65.54 491.72,66.68 491.99,68.28 490.55,67.52 489.11,68.28 489.38,66.68 488.22,65.54 489.83,65.31"/><polygon points="497.8,64.85 498.52,66.31 500.13,66.54 498.97,67.68 499.24,69.28 497.8,68.52 496.36,69.28 496.63,67.68 495.47,66.54 497.08,66.31"/><polygon points="505.05,63.05 505.77,64.51 507.38,64.74 506.22,65.88 506.49,67.48 505.05,66.72 503.61,67.48 503.88,65.88 502.72,64.74 504.33,64.51"/><polygon points="512.3,71.35 513.02,72.81 514.63,73.04 513.47,74.18 513.74,75.78 512.3,75.02 510.86,75.78 511.13,74.18 509.97,73.04 511.58,72.81"/><rect class="fr" x="313.5" y="32" width="202.5" height="130.3"/><line class="tk" x1="316.55" y1="162.3" x2="316.55" y2="165.2"/><line class="tk" x1="323.8" y1="162.3" x2="323.8" y2="165.2"/><line class="tk" x1="331.05" y1="162.3" x2="331.05" y2="165.2"/><line class="tk" x1="338.3" y1="162.3" x2="338.3" y2="165.2"/><line class="tk" x1="345.55" y1="162.3" x2="345.55" y2="165.2"/><line class="tk" x1="352.8" y1="162.3" x2="352.8" y2="165.2"/><line class="tk" x1="360.05" y1="162.3" x2="360.05" y2="165.2"/><line class="tk" x1="367.3" y1="162.3" x2="367.3" y2="165.2"/><line class="tk" x1="374.55" y1="162.3" x2="374.55" y2="165.2"/><line class="tk" x1="381.8" y1="162.3" x2="381.8" y2="165.2"/><line class="tk" x1="389.05" y1="162.3" x2="389.05" y2="165.2"/><line class="tk" x1="396.3" y1="162.3" x2="396.3" y2="165.2"/><line class="tk" x1="403.55" y1="162.3" x2="403.55" y2="165.2"/><line class="tk" x1="410.8" y1="162.3" x2="410.8" y2="165.2"/><line class="tk" x1="418.05" y1="162.3" x2="418.05" y2="165.2"/><line class="tk" x1="425.3" y1="162.3" x2="425.3" y2="165.2"/><line class="tk" x1="432.55" y1="162.3" x2="432.55" y2="165.2"/><line class="tk" x1="439.8" y1="162.3" x2="439.8" y2="165.2"/><line class="tk" x1="447.05" y1="162.3" x2="447.05" y2="165.2"/><line class="tk" x1="454.3" y1="162.3" x2="454.3" y2="165.2"/><line class="tk" x1="461.55" y1="162.3" x2="461.55" y2="165.2"/><line class="tk" x1="468.8" y1="162.3" x2="468.8" y2="165.2"/><line class="tk" x1="476.05" y1="162.3" x2="476.05" y2="165.2"/><line class="tk" x1="483.3" y1="162.3" x2="483.3" y2="165.2"/><line class="tk" x1="490.55" y1="162.3" x2="490.55" y2="165.2"/><line class="tk" x1="497.8" y1="162.3" x2="497.8" y2="165.2"/><line class="tk" x1="505.05" y1="162.3" x2="505.05" y2="165.2"/><line class="tk" x1="512.3" y1="162.3" x2="512.3" y2="165.2"/><text class="tl" x="338.3" y="175.1" text-anchor="middle">0</text><text class="tl" x="360.05" y="175.1" text-anchor="middle">3</text><text class="tl" x="381.8" y="175.1" text-anchor="middle">6</text><text class="tl" x="403.55" y="175.1" text-anchor="middle">9</text><text class="tl" x="425.3" y="175.1" text-anchor="middle">12</text><text class="tl" x="447.05" y="175.1" text-anchor="middle">15</text><text class="tl" x="468.8" y="175.1" text-anchor="middle">18</text><text class="tl" x="490.55" y="175.1" text-anchor="middle">21</text><text class="tl" x="512.3" y="175.1" text-anchor="middle">24</text><line class="tk" x1="311.6" y1="162.3" x2="313.5" y2="162.3"/><line class="tk" x1="311.6" y1="158.58" x2="313.5" y2="158.58"/><line class="tk" x1="311.6" y1="154.86" x2="313.5" y2="154.86"/><line class="tk" x1="311.6" y1="151.14" x2="313.5" y2="151.14"/><line class="tk" x1="311.6" y1="147.42" x2="313.5" y2="147.42"/><line class="tk" x1="311.6" y1="143.7" x2="313.5" y2="143.7"/><line class="tk" x1="311.6" y1="139.98" x2="313.5" y2="139.98"/><line class="tk" x1="311.6" y1="136.26" x2="313.5" y2="136.26"/><line class="tk" x1="311.6" y1="132.54" x2="313.5" y2="132.54"/><line class="tk" x1="311.6" y1="128.82" x2="313.5" y2="128.82"/><line class="tk" x1="311.6" y1="125.1" x2="313.5" y2="125.1"/><line class="tk" x1="311.6" y1="121.38" x2="313.5" y2="121.38"/><line class="tk" x1="311.6" y1="117.66" x2="313.5" y2="117.66"/><line class="tk" x1="311.6" y1="113.94" x2="313.5" y2="113.94"/><line class="tk" x1="311.6" y1="110.22" x2="313.5" y2="110.22"/><line class="tk" x1="311.6" y1="106.5" x2="313.5" y2="106.5"/><line class="tk" x1="311.6" y1="102.78" x2="313.5" y2="102.78"/><line class="tk" x1="311.6" y1="99.06" x2="313.5" y2="99.06"/><line class="tk" x1="311.6" y1="95.34" x2="313.5" y2="95.34"/><line class="tk" x1="311.6" y1="91.62" x2="313.5" y2="91.62"/><line class="tk" x1="311.6" y1="87.9" x2="313.5" y2="87.9"/><line class="tk" x1="311.6" y1="84.18" x2="313.5" y2="84.18"/><line class="tk" x1="311.6" y1="80.46" x2="313.5" y2="80.46"/><line class="tk" x1="311.6" y1="76.74" x2="313.5" y2="76.74"/><line class="tk" x1="311.6" y1="73.02" x2="313.5" y2="73.02"/><line class="tk" x1="311.6" y1="69.3" x2="313.5" y2="69.3"/><line class="tk" x1="311.6" y1="65.58" x2="313.5" y2="65.58"/><line class="tk" x1="311.6" y1="61.86" x2="313.5" y2="61.86"/><line class="tk" x1="311.6" y1="58.14" x2="313.5" y2="58.14"/><line class="tk" x1="311.6" y1="54.42" x2="313.5" y2="54.42"/><line class="tk" x1="311.6" y1="50.7" x2="313.5" y2="50.7"/><line class="tk" x1="311.6" y1="46.98" x2="313.5" y2="46.98"/><line class="tk" x1="311.6" y1="43.26" x2="313.5" y2="43.26"/><line class="tk" x1="311.6" y1="39.54" x2="313.5" y2="39.54"/><line class="tk" x1="311.6" y1="35.82" x2="313.5" y2="35.82"/><line class="tk" x1="311.6" y1="32.1" x2="313.5" y2="32.1"/><line class="tk" x1="310.9" y1="143.7" x2="313.5" y2="143.7"/><text class="tl" x="307.2" y="148.1" text-anchor="end">80</text><line class="tk" x1="310.9" y1="106.5" x2="313.5" y2="106.5"/><text class="tl" x="307.2" y="110.9" text-anchor="end">100</text><line class="tk" x1="310.9" y1="69.3" x2="313.5" y2="69.3"/><text class="tl" x="307.2" y="73.7" text-anchor="end">120</text><line class="tk" x1="310.9" y1="32.1" x2="313.5" y2="32.1"/><text class="tl" x="307.2" y="36.5" text-anchor="end">140</text><line class="arr" x1="338.3" y1="101.2" x2="338.3" y2="115.7"/><polygon points="338.3,97.2 335.3,102.8 341.3,102.8"/><text class="at" x="416.2" y="191.1" text-anchor="middle">Time after implantation of pump (hr)</text><text class="at" style="font-size:10.35px" transform="translate(281.3,105.7) rotate(-90)" text-anchor="middle">Systolic blood pressure (mm Hg)</text><text class="pl" transform="translate(271.6,18.5) scale(0.92,1)">B</text></g><g><line class="db" x1="47.65" y1="253" x2="47.65" y2="278"/><line class="cap" x1="46.65" y1="253" x2="48.65" y2="253"/><line class="cap" x1="46.65" y1="278" x2="48.65" y2="278"/><line class="db" x1="54.9" y1="276.5" x2="54.9" y2="291.5"/><line class="cap" x1="53.9" y1="276.5" x2="55.9" y2="276.5"/><line class="cap" x1="53.9" y1="291.5" x2="55.9" y2="291.5"/><line class="db" x1="62.15" y1="275" x2="62.15" y2="293"/><line class="cap" x1="61.15" y1="275" x2="63.15" y2="275"/><line class="cap" x1="61.15" y1="293" x2="63.15" y2="293"/><line class="db" x1="69.4" y1="276.2" x2="69.4" y2="292.2"/><line class="cap" x1="68.4" y1="276.2" x2="70.4" y2="276.2"/><line class="cap" x1="68.4" y1="292.2" x2="70.4" y2="292.2"/><line class="db" x1="76.65" y1="252.5" x2="76.65" y2="262.5"/><line class="cap" x1="75.65" y1="252.5" x2="77.65" y2="252.5"/><line class="cap" x1="75.65" y1="262.5" x2="77.65" y2="262.5"/><line class="db" x1="83.9" y1="258.4" x2="83.9" y2="268.4"/><line class="cap" x1="82.9" y1="258.4" x2="84.9" y2="258.4"/><line class="cap" x1="82.9" y1="268.4" x2="84.9" y2="268.4"/><line class="db" x1="91.15" y1="272" x2="91.15" y2="288"/><line class="cap" x1="90.15" y1="272" x2="92.15" y2="272"/><line class="cap" x1="90.15" y1="288" x2="92.15" y2="288"/><line class="db" x1="98.4" y1="289" x2="98.4" y2="307"/><line class="cap" x1="97.4" y1="289" x2="99.4" y2="289"/><line class="cap" x1="97.4" y1="307" x2="99.4" y2="307"/><line class="db" x1="105.65" y1="306" x2="105.65" y2="320"/><line class="cap" x1="104.65" y1="306" x2="106.65" y2="306"/><line class="cap" x1="104.65" y1="320" x2="106.65" y2="320"/><line class="db" x1="112.9" y1="314.7" x2="112.9" y2="329.7"/><line class="cap" x1="111.9" y1="314.7" x2="113.9" y2="314.7"/><line class="cap" x1="111.9" y1="329.7" x2="113.9" y2="329.7"/><line class="db" x1="120.15" y1="317.1" x2="120.15" y2="332.1"/><line class="cap" x1="119.15" y1="317.1" x2="121.15" y2="317.1"/><line class="cap" x1="119.15" y1="332.1" x2="121.15" y2="332.1"/><line class="db" x1="127.4" y1="314.2" x2="127.4" y2="333.4"/><line class="cap" x1="126.4" y1="314.2" x2="128.4" y2="314.2"/><line class="cap" x1="126.4" y1="333.4" x2="128.4" y2="333.4"/><line class="db" x1="134.65" y1="315.2" x2="134.65" y2="329.2"/><line class="cap" x1="133.65" y1="315.2" x2="135.65" y2="315.2"/><line class="cap" x1="133.65" y1="329.2" x2="135.65" y2="329.2"/><line class="db" x1="141.9" y1="314.5" x2="141.9" y2="328.1"/><line class="cap" x1="140.9" y1="314.5" x2="142.9" y2="314.5"/><line class="cap" x1="140.9" y1="328.1" x2="142.9" y2="328.1"/><line class="db" x1="149.15" y1="318" x2="149.15" y2="330.8"/><line class="cap" x1="148.15" y1="318" x2="150.15" y2="318"/><line class="cap" x1="148.15" y1="330.8" x2="150.15" y2="330.8"/><line class="db" x1="156.4" y1="321.4" x2="156.4" y2="339.4"/><line class="cap" x1="155.4" y1="321.4" x2="157.4" y2="321.4"/><line class="cap" x1="155.4" y1="339.4" x2="157.4" y2="339.4"/><line class="db" x1="163.65" y1="323.7" x2="163.65" y2="341.1"/><line class="cap" x1="162.65" y1="323.7" x2="164.65" y2="323.7"/><line class="cap" x1="162.65" y1="341.1" x2="164.65" y2="341.1"/><line class="db" x1="170.9" y1="321.1" x2="170.9" y2="340.7"/><line class="cap" x1="169.9" y1="321.1" x2="171.9" y2="321.1"/><line class="cap" x1="169.9" y1="340.7" x2="171.9" y2="340.7"/><line class="db" x1="178.15" y1="322.9" x2="178.15" y2="345.5"/><line class="cap" x1="177.15" y1="322.9" x2="179.15" y2="322.9"/><line class="cap" x1="177.15" y1="345.5" x2="179.15" y2="345.5"/><line class="db" x1="185.4" y1="325.5" x2="185.4" y2="353.5"/><line class="cap" x1="184.4" y1="325.5" x2="186.4" y2="325.5"/><line class="cap" x1="184.4" y1="353.5" x2="186.4" y2="353.5"/><line class="db" x1="192.65" y1="321.5" x2="192.65" y2="352.5"/><line class="cap" x1="191.65" y1="321.5" x2="193.65" y2="321.5"/><line class="cap" x1="191.65" y1="352.5" x2="193.65" y2="352.5"/><line class="db" x1="199.9" y1="325.5" x2="199.9" y2="354.5"/><line class="cap" x1="198.9" y1="325.5" x2="200.9" y2="325.5"/><line class="cap" x1="198.9" y1="354.5" x2="200.9" y2="354.5"/><line class="db" x1="207.15" y1="328.7" x2="207.15" y2="351.3"/><line class="cap" x1="206.15" y1="328.7" x2="208.15" y2="328.7"/><line class="cap" x1="206.15" y1="351.3" x2="208.15" y2="351.3"/><line class="db" x1="214.4" y1="333.9" x2="214.4" y2="356.5"/><line class="cap" x1="213.4" y1="333.9" x2="215.4" y2="333.9"/><line class="cap" x1="213.4" y1="356.5" x2="215.4" y2="356.5"/><line class="db" x1="221.65" y1="329.8" x2="221.65" y2="353.2"/><line class="cap" x1="220.65" y1="329.8" x2="222.65" y2="329.8"/><line class="cap" x1="220.65" y1="353.2" x2="222.65" y2="353.2"/><line class="db" x1="228.9" y1="327" x2="228.9" y2="349"/><line class="cap" x1="227.9" y1="327" x2="229.9" y2="327"/><line class="cap" x1="227.9" y1="349" x2="229.9" y2="349"/><line class="db" x1="236.15" y1="332.9" x2="236.15" y2="356.9"/><line class="cap" x1="235.15" y1="332.9" x2="237.15" y2="332.9"/><line class="cap" x1="235.15" y1="356.9" x2="237.15" y2="356.9"/><line class="db" x1="243.4" y1="341.3" x2="243.4" y2="361.3"/><line class="cap" x1="242.4" y1="341.3" x2="244.4" y2="341.3"/><line class="cap" x1="242.4" y1="361.3" x2="244.4" y2="361.3"/><line class="sb" x1="47.65" y1="263.7" x2="47.65" y2="287.7"/><line class="scap" x1="46.65" y1="263.7" x2="48.65" y2="263.7"/><line class="scap" x1="46.65" y1="287.7" x2="48.65" y2="287.7"/><line class="sb" x1="54.9" y1="260.4" x2="54.9" y2="291"/><line class="scap" x1="53.9" y1="260.4" x2="55.9" y2="260.4"/><line class="scap" x1="53.9" y1="291" x2="55.9" y2="291"/><line class="sb" x1="62.15" y1="274" x2="62.15" y2="298"/><line class="scap" x1="61.15" y1="274" x2="63.15" y2="274"/><line class="scap" x1="61.15" y1="298" x2="63.15" y2="298"/><line class="sb" x1="69.4" y1="271.8" x2="69.4" y2="296.8"/><line class="scap" x1="68.4" y1="271.8" x2="70.4" y2="271.8"/><line class="scap" x1="68.4" y1="296.8" x2="70.4" y2="296.8"/><line class="sb" x1="76.65" y1="240.5" x2="76.65" y2="253.5"/><line class="scap" x1="75.65" y1="240.5" x2="77.65" y2="240.5"/><line class="scap" x1="75.65" y1="253.5" x2="77.65" y2="253.5"/><line class="sb" x1="83.9" y1="255" x2="83.9" y2="263"/><line class="scap" x1="82.9" y1="255" x2="84.9" y2="255"/><line class="scap" x1="82.9" y1="263" x2="84.9" y2="263"/><line class="sb" x1="91.15" y1="268.4" x2="91.15" y2="276.4"/><line class="scap" x1="90.15" y1="268.4" x2="92.15" y2="268.4"/><line class="scap" x1="90.15" y1="276.4" x2="92.15" y2="276.4"/><line class="sb" x1="98.4" y1="269.7" x2="98.4" y2="283.3"/><line class="scap" x1="97.4" y1="269.7" x2="99.4" y2="269.7"/><line class="scap" x1="97.4" y1="283.3" x2="99.4" y2="283.3"/><line class="sb" x1="105.65" y1="274.5" x2="105.65" y2="292.5"/><line class="scap" x1="104.65" y1="274.5" x2="106.65" y2="274.5"/><line class="scap" x1="104.65" y1="292.5" x2="106.65" y2="292.5"/><line class="sb" x1="112.9" y1="282.7" x2="112.9" y2="298.7"/><line class="scap" x1="111.9" y1="282.7" x2="113.9" y2="282.7"/><line class="scap" x1="111.9" y1="298.7" x2="113.9" y2="298.7"/><line class="sb" x1="120.15" y1="285.7" x2="120.15" y2="300.7"/><line class="scap" x1="119.15" y1="285.7" x2="121.15" y2="285.7"/><line class="scap" x1="119.15" y1="300.7" x2="121.15" y2="300.7"/><line class="sb" x1="127.4" y1="289.2" x2="127.4" y2="303.2"/><line class="scap" x1="126.4" y1="289.2" x2="128.4" y2="289.2"/><line class="scap" x1="126.4" y1="303.2" x2="128.4" y2="303.2"/><line class="sb" x1="134.65" y1="292.2" x2="134.65" y2="308.2"/><line class="scap" x1="133.65" y1="292.2" x2="135.65" y2="292.2"/><line class="scap" x1="133.65" y1="308.2" x2="135.65" y2="308.2"/><line class="sb" x1="141.9" y1="298.9" x2="141.9" y2="311.7"/><line class="scap" x1="140.9" y1="298.9" x2="142.9" y2="298.9"/><line class="scap" x1="140.9" y1="311.7" x2="142.9" y2="311.7"/><line class="sb" x1="149.15" y1="300.3" x2="149.15" y2="311.7"/><line class="scap" x1="148.15" y1="300.3" x2="150.15" y2="300.3"/><line class="scap" x1="148.15" y1="311.7" x2="150.15" y2="311.7"/><line class="sb" x1="156.4" y1="301.8" x2="156.4" y2="312.4"/><line class="scap" x1="155.4" y1="301.8" x2="157.4" y2="301.8"/><line class="scap" x1="155.4" y1="312.4" x2="157.4" y2="312.4"/><line class="sb" x1="163.65" y1="301.9" x2="163.65" y2="314.7"/><line class="scap" x1="162.65" y1="301.9" x2="164.65" y2="301.9"/><line class="scap" x1="162.65" y1="314.7" x2="164.65" y2="314.7"/><line class="sb" x1="170.9" y1="303" x2="170.9" y2="316.6"/><line class="scap" x1="169.9" y1="303" x2="171.9" y2="303"/><line class="scap" x1="169.9" y1="316.6" x2="171.9" y2="316.6"/><line class="sb" x1="178.15" y1="304.5" x2="178.15" y2="320.1"/><line class="scap" x1="177.15" y1="304.5" x2="179.15" y2="304.5"/><line class="scap" x1="177.15" y1="320.1" x2="179.15" y2="320.1"/><line class="sb" x1="185.4" y1="304.1" x2="185.4" y2="322.1"/><line class="scap" x1="184.4" y1="304.1" x2="186.4" y2="304.1"/><line class="scap" x1="184.4" y1="322.1" x2="186.4" y2="322.1"/><line class="sb" x1="192.65" y1="302.1" x2="192.65" y2="320.9"/><line class="scap" x1="191.65" y1="302.1" x2="193.65" y2="302.1"/><line class="scap" x1="191.65" y1="320.9" x2="193.65" y2="320.9"/><line class="sb" x1="199.9" y1="301.2" x2="199.9" y2="322.8"/><line class="scap" x1="198.9" y1="301.2" x2="200.9" y2="301.2"/><line class="scap" x1="198.9" y1="322.8" x2="200.9" y2="322.8"/><line class="sb" x1="207.15" y1="300" x2="207.15" y2="322.6"/><line class="scap" x1="206.15" y1="300" x2="208.15" y2="300"/><line class="scap" x1="206.15" y1="322.6" x2="208.15" y2="322.6"/><line class="sb" x1="214.4" y1="300.2" x2="214.4" y2="324.8"/><line class="scap" x1="213.4" y1="300.2" x2="215.4" y2="300.2"/><line class="scap" x1="213.4" y1="324.8" x2="215.4" y2="324.8"/><line class="sb" x1="221.65" y1="294.5" x2="221.65" y2="322.5"/><line class="scap" x1="220.65" y1="294.5" x2="222.65" y2="294.5"/><line class="scap" x1="220.65" y1="322.5" x2="222.65" y2="322.5"/><line class="sb" x1="228.9" y1="295.2" x2="228.9" y2="320.6"/><line class="scap" x1="227.9" y1="295.2" x2="229.9" y2="295.2"/><line class="scap" x1="227.9" y1="320.6" x2="229.9" y2="320.6"/><line class="sb" x1="236.15" y1="293.7" x2="236.15" y2="321.3"/><line class="scap" x1="235.15" y1="293.7" x2="237.15" y2="293.7"/><line class="scap" x1="235.15" y1="321.3" x2="237.15" y2="321.3"/><line class="sb" x1="243.4" y1="298" x2="243.4" y2="326"/><line class="scap" x1="242.4" y1="298" x2="244.4" y2="298"/><line class="scap" x1="242.4" y1="326" x2="244.4" y2="326"/><polyline class="dl" points="47.65,265.5 54.9,284 62.15,284 69.4,284.2 76.65,257.5 83.9,263.4 91.15,280 98.4,298 105.65,313 112.9,322.2 120.15,324.6 127.4,323.8 134.65,322.2 141.9,321.3 149.15,324.4 156.4,330.4 163.65,332.4 170.9,330.9 178.15,334.2 185.4,339.5 192.65,337 199.9,340 207.15,340 214.4,345.2 221.65,341.5 228.9,338 236.15,344.9 243.4,351.3"/><polyline class="sl" points="47.65,275.7 54.9,275.7 62.15,286 69.4,284.3 76.65,247 83.9,259 91.15,272.4 98.4,276.5 105.65,283.5 112.9,290.7 120.15,293.2 127.4,296.2 134.65,300.2 141.9,305.3 149.15,306 156.4,307.1 163.65,308.3 170.9,309.8 178.15,312.3 185.4,313.1 192.65,311.5 199.9,312 207.15,311.3 214.4,312.5 221.65,308.5 228.9,307.9 236.15,307.5 243.4,312"/><polygon points="105.65,268.75 106.37,270.21 107.98,270.44 106.82,271.58 107.09,273.18 105.65,272.43 104.21,273.18 104.48,271.58 103.32,270.44 104.93,270.21"/><polygon points="112.9,274.75 113.62,276.21 115.23,276.44 114.07,277.58 114.34,279.18 112.9,278.43 111.46,279.18 111.73,277.58 110.57,276.44 112.18,276.21"/><path class="hs" d="M119.35 277.5L118.95 282.3M121.35 277.5L120.95 282.3M117.85 279H122.45M117.85 280.9H122.45"/><polygon points="127.4,279.45 128.12,280.91 129.73,281.14 128.57,282.28 128.84,283.88 127.4,283.12 125.96,283.88 126.23,282.28 125.07,281.14 126.68,280.91"/><polygon points="149.15,292.05 149.87,293.51 151.48,293.74 150.32,294.88 150.59,296.48 149.15,295.73 147.71,296.48 147.98,294.88 146.82,293.74 148.43,293.51"/><polygon points="156.4,294.25 157.12,295.71 158.73,295.94 157.57,297.08 157.84,298.68 156.4,297.93 154.96,298.68 155.23,297.08 154.07,295.94 155.68,295.71"/><polygon points="163.65,294.25 164.37,295.71 165.98,295.94 164.82,297.08 165.09,298.68 163.65,297.93 162.21,298.68 162.48,297.08 161.32,295.94 162.93,295.71"/><polygon points="243.4,291.45 244.12,292.91 245.73,293.14 244.57,294.28 244.84,295.88 243.4,295.12 241.96,295.88 242.23,294.28 241.07,293.14 242.68,292.91"/><rect class="fr" x="43.9" y="236.2" width="203.1" height="130.2"/><line class="tk" x1="47.65" y1="366.4" x2="47.65" y2="369.3"/><line class="tk" x1="54.9" y1="366.4" x2="54.9" y2="369.3"/><line class="tk" x1="62.15" y1="366.4" x2="62.15" y2="369.3"/><line class="tk" x1="69.4" y1="366.4" x2="69.4" y2="369.3"/><line class="tk" x1="76.65" y1="366.4" x2="76.65" y2="369.3"/><line class="tk" x1="83.9" y1="366.4" x2="83.9" y2="369.3"/><line class="tk" x1="91.15" y1="366.4" x2="91.15" y2="369.3"/><line class="tk" x1="98.4" y1="366.4" x2="98.4" y2="369.3"/><line class="tk" x1="105.65" y1="366.4" x2="105.65" y2="369.3"/><line class="tk" x1="112.9" y1="366.4" x2="112.9" y2="369.3"/><line class="tk" x1="120.15" y1="366.4" x2="120.15" y2="369.3"/><line class="tk" x1="127.4" y1="366.4" x2="127.4" y2="369.3"/><line class="tk" x1="134.65" y1="366.4" x2="134.65" y2="369.3"/><line class="tk" x1="141.9" y1="366.4" x2="141.9" y2="369.3"/><line class="tk" x1="149.15" y1="366.4" x2="149.15" y2="369.3"/><line class="tk" x1="156.4" y1="366.4" x2="156.4" y2="369.3"/><line class="tk" x1="163.65" y1="366.4" x2="163.65" y2="369.3"/><line class="tk" x1="170.9" y1="366.4" x2="170.9" y2="369.3"/><line class="tk" x1="178.15" y1="366.4" x2="178.15" y2="369.3"/><line class="tk" x1="185.4" y1="366.4" x2="185.4" y2="369.3"/><line class="tk" x1="192.65" y1="366.4" x2="192.65" y2="369.3"/><line class="tk" x1="199.9" y1="366.4" x2="199.9" y2="369.3"/><line class="tk" x1="207.15" y1="366.4" x2="207.15" y2="369.3"/><line class="tk" x1="214.4" y1="366.4" x2="214.4" y2="369.3"/><line class="tk" x1="221.65" y1="366.4" x2="221.65" y2="369.3"/><line class="tk" x1="228.9" y1="366.4" x2="228.9" y2="369.3"/><line class="tk" x1="236.15" y1="366.4" x2="236.15" y2="369.3"/><line class="tk" x1="243.4" y1="366.4" x2="243.4" y2="369.3"/><text class="tl" x="69.4" y="379.2" text-anchor="middle">0</text><text class="tl" x="91.15" y="379.2" text-anchor="middle">3</text><text class="tl" x="112.9" y="379.2" text-anchor="middle">6</text><text class="tl" x="134.65" y="379.2" text-anchor="middle">9</text><text class="tl" x="156.4" y="379.2" text-anchor="middle">12</text><text class="tl" x="178.15" y="379.2" text-anchor="middle">15</text><text class="tl" x="199.9" y="379.2" text-anchor="middle">18</text><text class="tl" x="221.65" y="379.2" text-anchor="middle">21</text><text class="tl" x="243.4" y="379.2" text-anchor="middle">24</text><line class="tk" x1="42" y1="366.4" x2="43.9" y2="366.4"/><line class="tk" x1="42" y1="361.19" x2="43.9" y2="361.19"/><line class="tk" x1="42" y1="355.98" x2="43.9" y2="355.98"/><line class="tk" x1="42" y1="350.78" x2="43.9" y2="350.78"/><line class="tk" x1="42" y1="345.57" x2="43.9" y2="345.57"/><line class="tk" x1="42" y1="340.36" x2="43.9" y2="340.36"/><line class="tk" x1="42" y1="335.15" x2="43.9" y2="335.15"/><line class="tk" x1="42" y1="329.94" x2="43.9" y2="329.94"/><line class="tk" x1="42" y1="324.74" x2="43.9" y2="324.74"/><line class="tk" x1="42" y1="319.53" x2="43.9" y2="319.53"/><line class="tk" x1="42" y1="314.32" x2="43.9" y2="314.32"/><line class="tk" x1="42" y1="309.11" x2="43.9" y2="309.11"/><line class="tk" x1="42" y1="303.9" x2="43.9" y2="303.9"/><line class="tk" x1="42" y1="298.7" x2="43.9" y2="298.7"/><line class="tk" x1="42" y1="293.49" x2="43.9" y2="293.49"/><line class="tk" x1="42" y1="288.28" x2="43.9" y2="288.28"/><line class="tk" x1="42" y1="283.07" x2="43.9" y2="283.07"/><line class="tk" x1="42" y1="277.86" x2="43.9" y2="277.86"/><line class="tk" x1="42" y1="272.66" x2="43.9" y2="272.66"/><line class="tk" x1="42" y1="267.45" x2="43.9" y2="267.45"/><line class="tk" x1="42" y1="262.24" x2="43.9" y2="262.24"/><line class="tk" x1="42" y1="257.03" x2="43.9" y2="257.03"/><line class="tk" x1="42" y1="251.82" x2="43.9" y2="251.82"/><line class="tk" x1="42" y1="246.62" x2="43.9" y2="246.62"/><line class="tk" x1="42" y1="241.41" x2="43.9" y2="241.41"/><line class="tk" x1="42" y1="236.2" x2="43.9" y2="236.2"/><line class="tk" x1="41.3" y1="340.36" x2="43.9" y2="340.36"/><text class="tl" x="37.6" y="344.76" text-anchor="end">60</text><line class="tk" x1="41.3" y1="288.28" x2="43.9" y2="288.28"/><text class="tl" x="37.6" y="292.68" text-anchor="end">80</text><line class="tk" x1="41.3" y1="236.2" x2="43.9" y2="236.2"/><text class="tl" x="37.6" y="240.6" text-anchor="end">100</text><line class="arr" x1="69.4" y1="306.8" x2="69.4" y2="321.3"/><polygon points="69.4,302.8 66.4,308.4 72.4,308.4"/><text class="at" x="145.6" y="394.4" text-anchor="middle">Time after implantation of pump (hr)</text><text class="at" style="font-size:10.5px" transform="translate(8.8,313) rotate(-90)" text-anchor="middle">Diastolic blood pressure (mm Hg)</text><text class="pl" transform="translate(0.6,224.3) scale(0.88,1)">C</text></g><g><line class="db" x1="316.55" y1="261" x2="316.55" y2="289"/><line class="cap" x1="315.55" y1="261" x2="317.55" y2="261"/><line class="cap" x1="315.55" y1="289" x2="317.55" y2="289"/><line class="db" x1="323.8" y1="273.7" x2="323.8" y2="297.1"/><line class="cap" x1="322.8" y1="273.7" x2="324.8" y2="273.7"/><line class="cap" x1="322.8" y1="297.1" x2="324.8" y2="297.1"/><line class="db" x1="331.05" y1="267.5" x2="331.05" y2="297.5"/><line class="cap" x1="330.05" y1="267.5" x2="332.05" y2="267.5"/><line class="cap" x1="330.05" y1="297.5" x2="332.05" y2="297.5"/><line class="db" x1="338.3" y1="272.5" x2="338.3" y2="288.5"/><line class="cap" x1="337.3" y1="272.5" x2="339.3" y2="272.5"/><line class="cap" x1="337.3" y1="288.5" x2="339.3" y2="288.5"/><line class="db" x1="345.55" y1="282.2" x2="345.55" y2="301.8"/><line class="cap" x1="344.55" y1="282.2" x2="346.55" y2="282.2"/><line class="cap" x1="344.55" y1="301.8" x2="346.55" y2="301.8"/><line class="db" x1="352.8" y1="295.4" x2="352.8" y2="312.6"/><line class="cap" x1="351.8" y1="295.4" x2="353.8" y2="295.4"/><line class="cap" x1="351.8" y1="312.6" x2="353.8" y2="312.6"/><line class="db" x1="360.05" y1="311.2" x2="360.05" y2="324.8"/><line class="cap" x1="359.05" y1="311.2" x2="361.05" y2="311.2"/><line class="cap" x1="359.05" y1="324.8" x2="361.05" y2="324.8"/><line class="db" x1="367.3" y1="325.2" x2="367.3" y2="338.8"/><line class="cap" x1="366.3" y1="325.2" x2="368.3" y2="325.2"/><line class="cap" x1="366.3" y1="338.8" x2="368.3" y2="338.8"/><line class="db" x1="374.55" y1="336.5" x2="374.55" y2="352.5"/><line class="cap" x1="373.55" y1="336.5" x2="375.55" y2="336.5"/><line class="cap" x1="373.55" y1="352.5" x2="375.55" y2="352.5"/><line class="db" x1="381.8" y1="341" x2="381.8" y2="356"/><line class="cap" x1="380.8" y1="341" x2="382.8" y2="341"/><line class="cap" x1="380.8" y1="356" x2="382.8" y2="356"/><line class="db" x1="389.05" y1="339.2" x2="389.05" y2="354.2"/><line class="cap" x1="388.05" y1="339.2" x2="390.05" y2="339.2"/><line class="cap" x1="388.05" y1="354.2" x2="390.05" y2="354.2"/><line class="db" x1="396.3" y1="335.7" x2="396.3" y2="352.3"/><line class="cap" x1="395.3" y1="335.7" x2="397.3" y2="335.7"/><line class="cap" x1="395.3" y1="352.3" x2="397.3" y2="352.3"/><line class="db" x1="403.55" y1="332.5" x2="403.55" y2="350.5"/><line class="cap" x1="402.55" y1="332.5" x2="404.55" y2="332.5"/><line class="cap" x1="402.55" y1="350.5" x2="404.55" y2="350.5"/><line class="db" x1="410.8" y1="331.3" x2="410.8" y2="348.7"/><line class="cap" x1="409.8" y1="331.3" x2="411.8" y2="331.3"/><line class="cap" x1="409.8" y1="348.7" x2="411.8" y2="348.7"/><line class="db" x1="418.05" y1="329.5" x2="418.05" y2="348.3"/><line class="cap" x1="417.05" y1="329.5" x2="419.05" y2="329.5"/><line class="cap" x1="417.05" y1="348.3" x2="419.05" y2="348.3"/><line class="db" x1="425.3" y1="329" x2="425.3" y2="350"/><line class="cap" x1="424.3" y1="329" x2="426.3" y2="329"/><line class="cap" x1="424.3" y1="350" x2="426.3" y2="350"/><line class="db" x1="432.55" y1="325.3" x2="432.55" y2="347.1"/><line class="cap" x1="431.55" y1="325.3" x2="433.55" y2="325.3"/><line class="cap" x1="431.55" y1="347.1" x2="433.55" y2="347.1"/><line class="db" x1="439.8" y1="322.2" x2="439.8" y2="344.8"/><line class="cap" x1="438.8" y1="322.2" x2="440.8" y2="322.2"/><line class="cap" x1="438.8" y1="344.8" x2="440.8" y2="344.8"/><line class="db" x1="447.05" y1="319.5" x2="447.05" y2="344.5"/><line class="cap" x1="446.05" y1="319.5" x2="448.05" y2="319.5"/><line class="cap" x1="446.05" y1="344.5" x2="448.05" y2="344.5"/><line class="db" x1="454.3" y1="320" x2="454.3" y2="344"/><line class="cap" x1="453.3" y1="320" x2="455.3" y2="320"/><line class="cap" x1="453.3" y1="344" x2="455.3" y2="344"/><line class="db" x1="461.55" y1="316.1" x2="461.55" y2="341.7"/><line class="cap" x1="460.55" y1="316.1" x2="462.55" y2="316.1"/><line class="cap" x1="460.55" y1="341.7" x2="462.55" y2="341.7"/><line class="db" x1="468.8" y1="313.4" x2="468.8" y2="341.4"/><line class="cap" x1="467.8" y1="313.4" x2="469.8" y2="313.4"/><line class="cap" x1="467.8" y1="341.4" x2="469.8" y2="341.4"/><line class="db" x1="476.05" y1="313.5" x2="476.05" y2="340.3"/><line class="cap" x1="475.05" y1="313.5" x2="477.05" y2="313.5"/><line class="cap" x1="475.05" y1="340.3" x2="477.05" y2="340.3"/><line class="db" x1="483.3" y1="313" x2="483.3" y2="341.8"/><line class="cap" x1="482.3" y1="313" x2="484.3" y2="313"/><line class="cap" x1="482.3" y1="341.8" x2="484.3" y2="341.8"/><line class="db" x1="490.55" y1="314.8" x2="490.55" y2="347.2"/><line class="cap" x1="489.55" y1="314.8" x2="491.55" y2="314.8"/><line class="cap" x1="489.55" y1="347.2" x2="491.55" y2="347.2"/><line class="db" x1="497.8" y1="311.6" x2="497.8" y2="341.4"/><line class="cap" x1="496.8" y1="311.6" x2="498.8" y2="311.6"/><line class="cap" x1="496.8" y1="341.4" x2="498.8" y2="341.4"/><line class="db" x1="505.05" y1="313.1" x2="505.05" y2="344.7"/><line class="cap" x1="504.05" y1="313.1" x2="506.05" y2="313.1"/><line class="cap" x1="504.05" y1="344.7" x2="506.05" y2="344.7"/><line class="db" x1="512.3" y1="314.2" x2="512.3" y2="346.6"/><line class="cap" x1="511.3" y1="314.2" x2="513.3" y2="314.2"/><line class="cap" x1="511.3" y1="346.6" x2="513.3" y2="346.6"/><line class="sb" x1="316.55" y1="267.4" x2="316.55" y2="277.4"/><line class="scap" x1="315.55" y1="267.4" x2="317.55" y2="267.4"/><line class="scap" x1="315.55" y1="277.4" x2="317.55" y2="277.4"/><line class="sb" x1="323.8" y1="270.5" x2="323.8" y2="279.5"/><line class="scap" x1="322.8" y1="270.5" x2="324.8" y2="270.5"/><line class="scap" x1="322.8" y1="279.5" x2="324.8" y2="279.5"/><line class="sb" x1="331.05" y1="278.4" x2="331.05" y2="290.4"/><line class="scap" x1="330.05" y1="278.4" x2="332.05" y2="278.4"/><line class="scap" x1="330.05" y1="290.4" x2="332.05" y2="290.4"/><line class="sb" x1="338.3" y1="269.4" x2="338.3" y2="277.4"/><line class="scap" x1="337.3" y1="269.4" x2="339.3" y2="269.4"/><line class="scap" x1="337.3" y1="277.4" x2="339.3" y2="277.4"/><line class="sb" x1="345.55" y1="269.8" x2="345.55" y2="277.8"/><line class="scap" x1="344.55" y1="269.8" x2="346.55" y2="269.8"/><line class="scap" x1="344.55" y1="277.8" x2="346.55" y2="277.8"/><line class="sb" x1="352.8" y1="282.7" x2="352.8" y2="293.3"/><line class="scap" x1="351.8" y1="282.7" x2="353.8" y2="282.7"/><line class="scap" x1="351.8" y1="293.3" x2="353.8" y2="293.3"/><line class="sb" x1="360.05" y1="291.9" x2="360.05" y2="302.5"/><line class="scap" x1="359.05" y1="291.9" x2="361.05" y2="291.9"/><line class="scap" x1="359.05" y1="302.5" x2="361.05" y2="302.5"/><line class="sb" x1="367.3" y1="307" x2="367.3" y2="317"/><line class="scap" x1="366.3" y1="307" x2="368.3" y2="307"/><line class="scap" x1="366.3" y1="317" x2="368.3" y2="317"/><line class="sb" x1="374.55" y1="316.3" x2="374.55" y2="326.3"/><line class="scap" x1="373.55" y1="316.3" x2="375.55" y2="316.3"/><line class="scap" x1="373.55" y1="326.3" x2="375.55" y2="326.3"/><line class="sb" x1="381.8" y1="311.3" x2="381.8" y2="325.3"/><line class="scap" x1="380.8" y1="311.3" x2="382.8" y2="311.3"/><line class="scap" x1="380.8" y1="325.3" x2="382.8" y2="325.3"/><line class="sb" x1="389.05" y1="307.4" x2="389.05" y2="323.4"/><line class="scap" x1="388.05" y1="307.4" x2="390.05" y2="307.4"/><line class="scap" x1="388.05" y1="323.4" x2="390.05" y2="323.4"/><line class="sb" x1="396.3" y1="306.5" x2="396.3" y2="319.3"/><line class="scap" x1="395.3" y1="306.5" x2="397.3" y2="306.5"/><line class="scap" x1="395.3" y1="319.3" x2="397.3" y2="319.3"/><line class="sb" x1="403.55" y1="297.7" x2="403.55" y2="312.1"/><line class="scap" x1="402.55" y1="297.7" x2="404.55" y2="297.7"/><line class="scap" x1="402.55" y1="312.1" x2="404.55" y2="312.1"/><line class="sb" x1="410.8" y1="290.2" x2="410.8" y2="304.6"/><line class="scap" x1="409.8" y1="290.2" x2="411.8" y2="290.2"/><line class="scap" x1="409.8" y1="304.6" x2="411.8" y2="304.6"/><line class="sb" x1="418.05" y1="290.1" x2="418.05" y2="306.1"/><line class="scap" x1="417.05" y1="290.1" x2="419.05" y2="290.1"/><line class="scap" x1="417.05" y1="306.1" x2="419.05" y2="306.1"/><line class="sb" x1="425.3" y1="285.7" x2="425.3" y2="302.3"/><line class="scap" x1="424.3" y1="285.7" x2="426.3" y2="285.7"/><line class="scap" x1="424.3" y1="302.3" x2="426.3" y2="302.3"/><line class="sb" x1="432.55" y1="284.6" x2="432.55" y2="300.4"/><line class="scap" x1="431.55" y1="284.6" x2="433.55" y2="284.6"/><line class="scap" x1="431.55" y1="300.4" x2="433.55" y2="300.4"/><line class="sb" x1="439.8" y1="283.4" x2="439.8" y2="300"/><line class="scap" x1="438.8" y1="283.4" x2="440.8" y2="283.4"/><line class="scap" x1="438.8" y1="300" x2="440.8" y2="300"/><line class="sb" x1="447.05" y1="280.7" x2="447.05" y2="300.7"/><line class="scap" x1="446.05" y1="280.7" x2="448.05" y2="280.7"/><line class="scap" x1="446.05" y1="300.7" x2="448.05" y2="300.7"/><line class="sb" x1="454.3" y1="278.7" x2="454.3" y2="299.3"/><line class="scap" x1="453.3" y1="278.7" x2="455.3" y2="278.7"/><line class="scap" x1="453.3" y1="299.3" x2="455.3" y2="299.3"/><line class="sb" x1="461.55" y1="277.3" x2="461.55" y2="301.3"/><line class="scap" x1="460.55" y1="277.3" x2="462.55" y2="277.3"/><line class="scap" x1="460.55" y1="301.3" x2="462.55" y2="301.3"/><line class="sb" x1="468.8" y1="271.5" x2="468.8" y2="296.9"/><line class="scap" x1="467.8" y1="271.5" x2="469.8" y2="271.5"/><line class="scap" x1="467.8" y1="296.9" x2="469.8" y2="296.9"/><line class="sb" x1="476.05" y1="269.3" x2="476.05" y2="293.7"/><line class="scap" x1="475.05" y1="269.3" x2="477.05" y2="269.3"/><line class="scap" x1="475.05" y1="293.7" x2="477.05" y2="293.7"/><line class="sb" x1="483.3" y1="258.8" x2="483.3" y2="287"/><line class="scap" x1="482.3" y1="258.8" x2="484.3" y2="258.8"/><line class="scap" x1="482.3" y1="287" x2="484.3" y2="287"/><line class="sb" x1="490.55" y1="246.6" x2="490.55" y2="287.2"/><line class="scap" x1="489.55" y1="246.6" x2="491.55" y2="246.6"/><line class="scap" x1="489.55" y1="287.2" x2="491.55" y2="287.2"/><line class="sb" x1="497.8" y1="249.4" x2="497.8" y2="289.6"/><line class="scap" x1="496.8" y1="249.4" x2="498.8" y2="249.4"/><line class="scap" x1="496.8" y1="289.6" x2="498.8" y2="289.6"/><line class="sb" x1="505.05" y1="248.3" x2="505.05" y2="293.7"/><line class="scap" x1="504.05" y1="248.3" x2="506.05" y2="248.3"/><line class="scap" x1="504.05" y1="293.7" x2="506.05" y2="293.7"/><line class="sb" x1="512.3" y1="257.4" x2="512.3" y2="295.4"/><line class="scap" x1="511.3" y1="257.4" x2="513.3" y2="257.4"/><line class="scap" x1="511.3" y1="295.4" x2="513.3" y2="295.4"/><polyline class="dl" points="316.55,275 323.8,285.4 331.05,282.5 338.3,280.5 345.55,292 352.8,304 360.05,318 367.3,332 374.55,344.5 381.8,348.5 389.05,346.7 396.3,344 403.55,341.5 410.8,340 418.05,338.9 425.3,339.5 432.55,336.2 439.8,333.5 447.05,332 454.3,332 461.55,328.9 468.8,327.4 476.05,326.9 483.3,327.4 490.55,331 497.8,326.5 505.05,328.9 512.3,330.4"/><polyline class="sl" points="316.55,272.4 323.8,275 331.05,284.4 338.3,273.4 345.55,273.8 352.8,288 360.05,297.2 367.3,312 374.55,321.3 381.8,318.3 389.05,315.4 396.3,312.9 403.55,304.9 410.8,297.4 418.05,298.1 425.3,294 432.55,292.5 439.8,291.7 447.05,290.7 454.3,289 461.55,289.3 468.8,284.2 476.05,281.5 483.3,272.9 490.55,266.9 497.8,269.5 505.05,271 512.3,276.4"/><path class="hs" d="M359.25 284.4L358.85 289.2M361.25 284.4L360.85 289.2M357.75 285.9H362.35M357.75 287.8H362.35"/><polygon points="367.3,299.75 368.02,301.21 369.63,301.44 368.47,302.58 368.74,304.18 367.3,303.43 365.86,304.18 366.13,302.58 364.97,301.44 366.58,301.21"/><polygon points="374.55,308.75 375.27,310.21 376.88,310.44 375.72,311.58 375.99,313.18 374.55,312.43 373.11,313.18 373.38,311.58 372.22,310.44 373.83,310.21"/><polygon points="381.8,303.95 382.52,305.41 384.13,305.64 382.97,306.78 383.24,308.38 381.8,307.62 380.36,308.38 380.63,306.78 379.47,305.64 381.08,305.41"/><path class="hs" d="M388.25 299.5L387.85 304.3M390.25 299.5L389.85 304.3M386.75 301H391.35M386.75 302.9H391.35"/><path class="hs" d="M395.5 298.7L395.1 303.5M397.5 298.7L397.1 303.5M394 300.2H398.6M394 302.1H398.6"/><path class="hs" d="M402.75 291.2L402.35 296M404.75 291.2L404.35 296M401.25 292.7H405.85M401.25 294.6H405.85"/><path class="hs" d="M410 282.8L409.6 287.6M412 282.8L411.6 287.6M408.5 284.3H413.1M408.5 286.2H413.1"/><path class="hs" d="M417.25 282.6L416.85 287.4M419.25 282.6L418.85 287.4M415.75 284.1H420.35M415.75 286H420.35"/><path class="hs" d="M424.5 278.8L424.1 283.6M426.5 278.8L426.1 283.6M423 280.3H427.6M423 282.2H427.6"/><path class="hs" d="M431.75 277.6L431.35 282.4M433.75 277.6L433.35 282.4M430.25 279.1H434.85M430.25 281H434.85"/><path class="hs" d="M439 275.5L438.6 280.3M441 275.5L440.6 280.3M437.5 277H442.1M437.5 278.9H442.1"/><polygon points="447.05,273.95 447.77,275.41 449.38,275.64 448.22,276.78 448.49,278.38 447.05,277.62 445.61,278.38 445.88,276.78 444.72,275.64 446.33,275.41"/><polygon points="454.3,270.45 455.02,271.91 456.63,272.14 455.47,273.28 455.74,274.88 454.3,274.12 452.86,274.88 453.13,273.28 451.97,272.14 453.58,271.91"/><polygon points="461.55,269.75 462.27,271.21 463.88,271.44 462.72,272.58 462.99,274.18 461.55,273.43 460.11,274.18 460.38,272.58 459.22,271.44 460.83,271.21"/><polygon points="468.8,265.25 469.52,266.71 471.13,266.94 469.97,268.08 470.24,269.68 468.8,268.93 467.36,269.68 467.63,268.08 466.47,266.94 468.08,266.71"/><polygon points="476.05,263.45 476.77,264.91 478.38,265.14 477.22,266.28 477.49,267.88 476.05,267.12 474.61,267.88 474.88,266.28 473.72,265.14 475.33,264.91"/><polygon points="483.3,251.65 484.02,253.11 485.63,253.34 484.47,254.48 484.74,256.08 483.3,255.32 481.86,256.08 482.13,254.48 480.97,253.34 482.58,253.11"/><polygon points="490.55,239.55 491.27,241.01 492.88,241.24 491.72,242.38 491.99,243.98 490.55,243.22 489.11,243.98 489.38,242.38 488.22,241.24 489.83,241.01"/><polygon points="497.8,241.85 498.52,243.31 500.13,243.54 498.97,244.68 499.24,246.28 497.8,245.53 496.36,246.28 496.63,244.68 495.47,243.54 497.08,243.31"/><polygon points="505.05,240.35 505.77,241.81 507.38,242.04 506.22,243.18 506.49,244.78 505.05,244.03 503.61,244.78 503.88,243.18 502.72,242.04 504.33,241.81"/><polygon points="512.3,250.45 513.02,251.91 514.63,252.14 513.47,253.28 513.74,254.88 512.3,254.12 510.86,254.88 511.13,253.28 509.97,252.14 511.58,251.91"/><rect class="fr" x="313.8" y="236.2" width="202.2" height="130.2"/><line class="tk" x1="316.55" y1="366.4" x2="316.55" y2="369.3"/><line class="tk" x1="323.8" y1="366.4" x2="323.8" y2="369.3"/><line class="tk" x1="331.05" y1="366.4" x2="331.05" y2="369.3"/><line class="tk" x1="338.3" y1="366.4" x2="338.3" y2="369.3"/><line class="tk" x1="345.55" y1="366.4" x2="345.55" y2="369.3"/><line class="tk" x1="352.8" y1="366.4" x2="352.8" y2="369.3"/><line class="tk" x1="360.05" y1="366.4" x2="360.05" y2="369.3"/><line class="tk" x1="367.3" y1="366.4" x2="367.3" y2="369.3"/><line class="tk" x1="374.55" y1="366.4" x2="374.55" y2="369.3"/><line class="tk" x1="381.8" y1="366.4" x2="381.8" y2="369.3"/><line class="tk" x1="389.05" y1="366.4" x2="389.05" y2="369.3"/><line class="tk" x1="396.3" y1="366.4" x2="396.3" y2="369.3"/><line class="tk" x1="403.55" y1="366.4" x2="403.55" y2="369.3"/><line class="tk" x1="410.8" y1="366.4" x2="410.8" y2="369.3"/><line class="tk" x1="418.05" y1="366.4" x2="418.05" y2="369.3"/><line class="tk" x1="425.3" y1="366.4" x2="425.3" y2="369.3"/><line class="tk" x1="432.55" y1="366.4" x2="432.55" y2="369.3"/><line class="tk" x1="439.8" y1="366.4" x2="439.8" y2="369.3"/><line class="tk" x1="447.05" y1="366.4" x2="447.05" y2="369.3"/><line class="tk" x1="454.3" y1="366.4" x2="454.3" y2="369.3"/><line class="tk" x1="461.55" y1="366.4" x2="461.55" y2="369.3"/><line class="tk" x1="468.8" y1="366.4" x2="468.8" y2="369.3"/><line class="tk" x1="476.05" y1="366.4" x2="476.05" y2="369.3"/><line class="tk" x1="483.3" y1="366.4" x2="483.3" y2="369.3"/><line class="tk" x1="490.55" y1="366.4" x2="490.55" y2="369.3"/><line class="tk" x1="497.8" y1="366.4" x2="497.8" y2="369.3"/><line class="tk" x1="505.05" y1="366.4" x2="505.05" y2="369.3"/><line class="tk" x1="512.3" y1="366.4" x2="512.3" y2="369.3"/><text class="tl" x="338.3" y="379.2" text-anchor="middle">0</text><text class="tl" x="360.05" y="379.2" text-anchor="middle">3</text><text class="tl" x="381.8" y="379.2" text-anchor="middle">6</text><text class="tl" x="403.55" y="379.2" text-anchor="middle">9</text><text class="tl" x="425.3" y="379.2" text-anchor="middle">12</text><text class="tl" x="447.05" y="379.2" text-anchor="middle">15</text><text class="tl" x="468.8" y="379.2" text-anchor="middle">18</text><text class="tl" x="490.55" y="379.2" text-anchor="middle">21</text><text class="tl" x="512.3" y="379.2" text-anchor="middle">24</text><line class="tk" x1="311.9" y1="366.3" x2="313.8" y2="366.3"/><line class="tk" x1="311.9" y1="362.6" x2="313.8" y2="362.6"/><line class="tk" x1="311.9" y1="358.9" x2="313.8" y2="358.9"/><line class="tk" x1="311.9" y1="355.19" x2="313.8" y2="355.19"/><line class="tk" x1="311.9" y1="351.49" x2="313.8" y2="351.49"/><line class="tk" x1="311.9" y1="347.79" x2="313.8" y2="347.79"/><line class="tk" x1="311.9" y1="344.09" x2="313.8" y2="344.09"/><line class="tk" x1="311.9" y1="340.39" x2="313.8" y2="340.39"/><line class="tk" x1="311.9" y1="336.69" x2="313.8" y2="336.69"/><line class="tk" x1="311.9" y1="332.98" x2="313.8" y2="332.98"/><line class="tk" x1="311.9" y1="329.28" x2="313.8" y2="329.28"/><line class="tk" x1="311.9" y1="325.58" x2="313.8" y2="325.58"/><line class="tk" x1="311.9" y1="321.88" x2="313.8" y2="321.88"/><line class="tk" x1="311.9" y1="318.18" x2="313.8" y2="318.18"/><line class="tk" x1="311.9" y1="314.48" x2="313.8" y2="314.48"/><line class="tk" x1="311.9" y1="310.77" x2="313.8" y2="310.77"/><line class="tk" x1="311.9" y1="307.07" x2="313.8" y2="307.07"/><line class="tk" x1="311.9" y1="303.37" x2="313.8" y2="303.37"/><line class="tk" x1="311.9" y1="299.67" x2="313.8" y2="299.67"/><line class="tk" x1="311.9" y1="295.97" x2="313.8" y2="295.97"/><line class="tk" x1="311.9" y1="292.27" x2="313.8" y2="292.27"/><line class="tk" x1="311.9" y1="288.56" x2="313.8" y2="288.56"/><line class="tk" x1="311.9" y1="284.86" x2="313.8" y2="284.86"/><line class="tk" x1="311.9" y1="281.16" x2="313.8" y2="281.16"/><line class="tk" x1="311.9" y1="277.46" x2="313.8" y2="277.46"/><line class="tk" x1="311.9" y1="273.76" x2="313.8" y2="273.76"/><line class="tk" x1="311.9" y1="270.06" x2="313.8" y2="270.06"/><line class="tk" x1="311.9" y1="266.35" x2="313.8" y2="266.35"/><line class="tk" x1="311.9" y1="262.65" x2="313.8" y2="262.65"/><line class="tk" x1="311.9" y1="258.95" x2="313.8" y2="258.95"/><line class="tk" x1="311.9" y1="255.25" x2="313.8" y2="255.25"/><line class="tk" x1="311.9" y1="251.55" x2="313.8" y2="251.55"/><line class="tk" x1="311.9" y1="247.85" x2="313.8" y2="247.85"/><line class="tk" x1="311.9" y1="244.14" x2="313.8" y2="244.14"/><line class="tk" x1="311.9" y1="240.44" x2="313.8" y2="240.44"/><line class="tk" x1="311.9" y1="236.74" x2="313.8" y2="236.74"/><line class="tk" x1="311.2" y1="366.3" x2="313.8" y2="366.3"/><text class="tl" x="307.5" y="370.7" text-anchor="end">10</text><line class="tk" x1="311.2" y1="329.28" x2="313.8" y2="329.28"/><text class="tl" x="307.5" y="333.68" text-anchor="end">20</text><line class="tk" x1="311.2" y1="292.27" x2="313.8" y2="292.27"/><text class="tl" x="307.5" y="296.67" text-anchor="end">30</text><line class="tk" x1="311.2" y1="255.25" x2="313.8" y2="255.25"/><text class="tl" x="307.5" y="259.65" text-anchor="end">40</text><line class="arr" x1="338.3" y1="301.2" x2="338.3" y2="315.7"/><polygon points="338.3,297.2 335.3,302.8 341.3,302.8"/><text class="at" x="415" y="394.5" text-anchor="middle">Time after implantation of pump (hr)</text><text class="at" style="font-size:10.4px" transform="translate(281.3,301.6) rotate(-90)" text-anchor="middle">Pulse pressure (mm Hg)</text><text class="pl" transform="translate(271,224.3) scale(0.96,1)">D</text></g>
</svg></div>
</body></html>
